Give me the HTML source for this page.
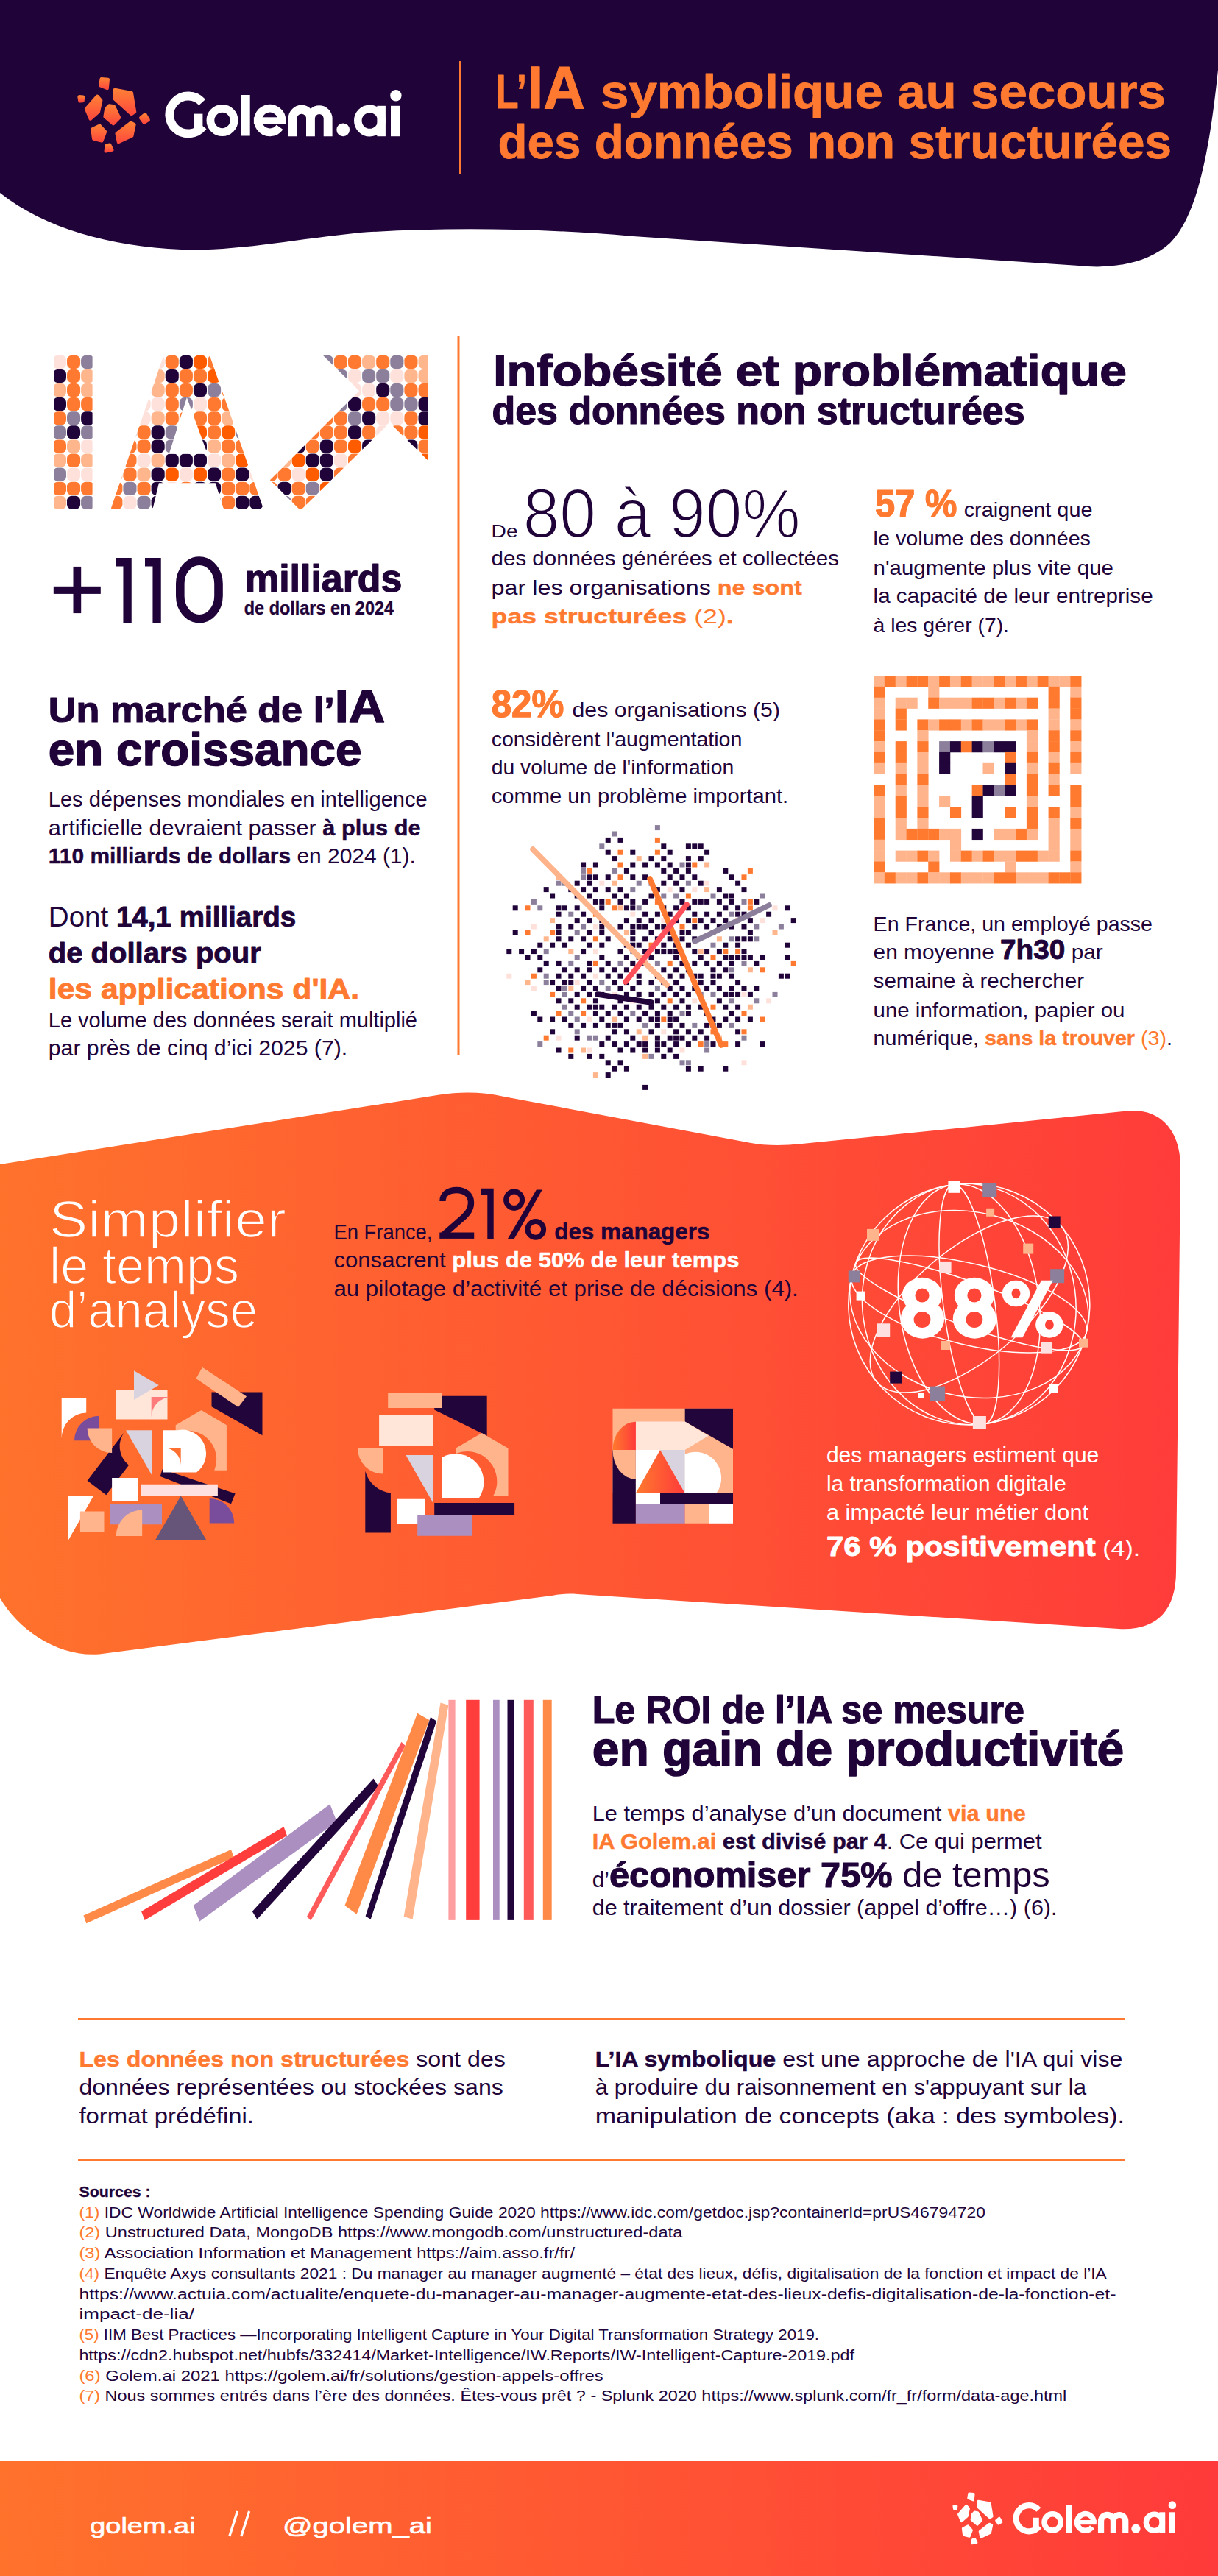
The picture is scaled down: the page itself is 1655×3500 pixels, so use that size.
<!DOCTYPE html>
<html><head><meta charset="utf-8"><title>Golem.ai infographic</title>
<style>
html,body{margin:0;padding:0;background:#fff;}
body{width:1655px;height:3500px;overflow:hidden;position:relative;font-family:"Liberation Sans", sans-serif;}
svg{position:absolute;left:0;top:0;}
text{white-space:pre;}
</style></head><body>
<svg width="1655" height="3500" viewBox="0 0 1655 3500" font-family='"Liberation Sans", sans-serif'>
<defs>
<linearGradient id="lg" x1="0" y1="0" x2="0" y2="1"><stop offset="0" stop-color="#ff7e36"/><stop offset="1" stop-color="#ff4a3c"/></linearGradient>
<linearGradient id="og" x1="0" y1="0" x2="1655" y2="0" gradientUnits="userSpaceOnUse"><stop offset="0" stop-color="#ff722c"/><stop offset="1" stop-color="#ff3a3a"/></linearGradient>
</defs>
<path d="M0,0 H1655 V95 C1645,190 1630,290 1590,330 C1560,358 1510,366 1466,361 L860,321 C720,309 600,309 490,316 C400,325 320,342 246,339 C150,335 60,310 0,262 Z" fill="#200439"/>
<rect x="624" y="83" width="3" height="154" fill="#ff7a30"/>
<g transform="translate(0.00,0.00) scale(1)" fill="url(#lg)" stroke="url(#lg)" stroke-width="4.4" stroke-linejoin="round"><polygon points="137.74,107.26 146.80,108.01 145.68,119.99 136.26,116.30"/><polygon points="107.55,131.32 113.15,131.59 112.52,137.02 108.39,137.28"/><polygon points="132.19,130.74 137.22,136.51 133.90,151.83 122.83,161.54 117.07,148.01"/><polygon points="156.04,121.91 178.78,126.09 183.10,151.99 178.77,155.00 155.26,133.88"/><polygon points="148.40,143.52 154.72,144.33 162.05,159.94 153.88,168.11 142.57,158.53 144.36,147.64"/><polygon points="197.22,155.25 201.71,162.86 195.69,166.55 191.18,160.28"/><polygon points="125.49,175.57 135.38,170.62 142.97,179.07 138.25,191.47 127.19,188.55"/><polygon points="158.63,181.60 177.76,166.78 182.50,169.12 179.27,184.47 160.99,193.03"/><polygon points="144.78,197.53 149.06,196.61 152.39,203.66 143.77,205.28"/></g>
<rect x="621.5" y="456" width="3" height="978" fill="#ff7a30"/>
<path d="M0,1582 L597,1487.6 C625,1483 655,1483 685,1490 L1010,1551 C1040,1557 1060,1557 1090,1554 L1534,1509.3 C1580,1506 1604,1540 1604,1585 L1598,2135 C1598,2190 1570,2216 1520,2213 L830,2169 L785,2166 C770,2165 760,2166 750,2168 L135,2247.5 C80,2252 25,2215 0,2171 Z" fill="url(#og)"/>
<rect x="0" y="3344" width="1655" height="156" fill="url(#og)"/>
<g transform="translate(1221.75,3314.10) scale(0.69)" fill="#ffffff" stroke="#ffffff" stroke-width="4.4" stroke-linejoin="round"><polygon points="137.74,107.26 146.80,108.01 145.68,119.99 136.26,116.30"/><polygon points="107.55,131.32 113.15,131.59 112.52,137.02 108.39,137.28"/><polygon points="132.19,130.74 137.22,136.51 133.90,151.83 122.83,161.54 117.07,148.01"/><polygon points="156.04,121.91 178.78,126.09 183.10,151.99 178.77,155.00 155.26,133.88"/><polygon points="148.40,143.52 154.72,144.33 162.05,159.94 153.88,168.11 142.57,158.53 144.36,147.64"/><polygon points="197.22,155.25 201.71,162.86 195.69,166.55 191.18,160.28"/><polygon points="125.49,175.57 135.38,170.62 142.97,179.07 138.25,191.47 127.19,188.55"/><polygon points="158.63,181.60 177.76,166.78 182.50,169.12 179.27,184.47 160.99,193.03"/><polygon points="144.78,197.53 149.06,196.61 152.39,203.66 143.77,205.28"/></g>
<rect x="106" y="2742" width="1422" height="3" fill="#ff7a30"/>
<rect x="106" y="2933" width="1422" height="3" fill="#ff7a30"/>
<clipPath id="iaclip"><path clip-rule="evenodd" d="M73.3,482.8 H125.6 V693.6 H73.3 Z M222.4,482.8 L284.8,482.8 L358.7,693.6 L304.5,693.6 L292.7,656.2 L215.9,656.2 L207.0,693.6 L149.9,693.6 Z M253.9,540.0 L281.9,616.8 L229.7,616.8 Z M438.8,482.8 L581.7,482.8 L581.7,625.7 L529.5,574.4 L408.3,693.6 L366.9,652.3 L488.1,531.1 Z"/></clipPath>
<g clip-path="url(#iaclip)"><rect x="71.9" y="482.8" width="18.1" height="18.1" rx="6.5" fill="#ffe1dc"/><rect x="91.0" y="482.8" width="18.1" height="18.1" rx="6.5" fill="#ff7a30"/><rect x="110.1" y="482.8" width="18.1" height="18.1" rx="6.5" fill="#8b7f9b"/><rect x="129.2" y="482.8" width="18.1" height="18.1" rx="6.5" fill="#ff7a30"/><rect x="148.3" y="482.8" width="18.1" height="18.1" rx="6.5" fill="#ff7a30"/><rect x="167.4" y="482.8" width="18.1" height="18.1" rx="6.5" fill="#200439"/><rect x="186.5" y="482.8" width="18.1" height="18.1" rx="6.5" fill="#ff7a30"/><rect x="205.6" y="482.8" width="18.1" height="18.1" rx="6.5" fill="#ffe1dc"/><rect x="224.7" y="482.8" width="18.1" height="18.1" rx="6.5" fill="#ff7a30"/><rect x="243.8" y="482.8" width="18.1" height="18.1" rx="6.5" fill="#200439"/><rect x="262.9" y="482.8" width="18.1" height="18.1" rx="6.5" fill="#ff5c00"/><rect x="282.0" y="482.8" width="18.1" height="18.1" rx="6.5" fill="#ff7a30"/><rect x="301.1" y="482.8" width="18.1" height="18.1" rx="6.5" fill="#ff7a30"/><rect x="320.2" y="482.8" width="18.1" height="18.1" rx="6.5" fill="#8b7f9b"/><rect x="339.3" y="482.8" width="18.1" height="18.1" rx="6.5" fill="#8b7f9b"/><rect x="358.4" y="482.8" width="18.1" height="18.1" rx="6.5" fill="#ff7a30"/><rect x="377.5" y="482.8" width="18.1" height="18.1" rx="6.5" fill="#ffb68c"/><rect x="396.6" y="482.8" width="18.1" height="18.1" rx="6.5" fill="#ff7a30"/><rect x="415.7" y="482.8" width="18.1" height="18.1" rx="6.5" fill="#200439"/><rect x="434.8" y="482.8" width="18.1" height="18.1" rx="6.5" fill="#8b7f9b"/><rect x="453.9" y="482.8" width="18.1" height="18.1" rx="6.5" fill="#ff7a30"/><rect x="473.0" y="482.8" width="18.1" height="18.1" rx="6.5" fill="#ff7a30"/><rect x="492.1" y="482.8" width="18.1" height="18.1" rx="6.5" fill="#ffb68c"/><rect x="511.2" y="482.8" width="18.1" height="18.1" rx="6.5" fill="#ff7a30"/><rect x="530.3" y="482.8" width="18.1" height="18.1" rx="6.5" fill="#8b7f9b"/><rect x="549.4" y="482.8" width="18.1" height="18.1" rx="6.5" fill="#ff7a30"/><rect x="568.5" y="482.8" width="18.1" height="18.1" rx="6.5" fill="#ffb68c"/><rect x="587.6" y="482.8" width="18.1" height="18.1" rx="6.5" fill="#ff7a30"/><rect x="71.9" y="501.9" width="18.1" height="18.1" rx="6.5" fill="#200439"/><rect x="91.0" y="501.9" width="18.1" height="18.1" rx="6.5" fill="#ff7a30"/><rect x="110.1" y="501.9" width="18.1" height="18.1" rx="6.5" fill="#ffb68c"/><rect x="129.2" y="501.9" width="18.1" height="18.1" rx="6.5" fill="#8b7f9b"/><rect x="148.3" y="501.9" width="18.1" height="18.1" rx="6.5" fill="#ff7a30"/><rect x="167.4" y="501.9" width="18.1" height="18.1" rx="6.5" fill="#200439"/><rect x="186.5" y="501.9" width="18.1" height="18.1" rx="6.5" fill="#ff7a30"/><rect x="205.6" y="501.9" width="18.1" height="18.1" rx="6.5" fill="#ffb68c"/><rect x="224.7" y="501.9" width="18.1" height="18.1" rx="6.5" fill="#200439"/><rect x="243.8" y="501.9" width="18.1" height="18.1" rx="6.5" fill="#ff7a30"/><rect x="262.9" y="501.9" width="18.1" height="18.1" rx="6.5" fill="#ff7a30"/><rect x="282.0" y="501.9" width="18.1" height="18.1" rx="6.5" fill="#ff5c00"/><rect x="301.1" y="501.9" width="18.1" height="18.1" rx="6.5" fill="#ffe1dc"/><rect x="320.2" y="501.9" width="18.1" height="18.1" rx="6.5" fill="#ff7a30"/><rect x="339.3" y="501.9" width="18.1" height="18.1" rx="6.5" fill="#200439"/><rect x="358.4" y="501.9" width="18.1" height="18.1" rx="6.5" fill="#ff7a30"/><rect x="377.5" y="501.9" width="18.1" height="18.1" rx="6.5" fill="#ff7a30"/><rect x="396.6" y="501.9" width="18.1" height="18.1" rx="6.5" fill="#ff5c00"/><rect x="415.7" y="501.9" width="18.1" height="18.1" rx="6.5" fill="#200439"/><rect x="434.8" y="501.9" width="18.1" height="18.1" rx="6.5" fill="#200439"/><rect x="453.9" y="501.9" width="18.1" height="18.1" rx="6.5" fill="#8b7f9b"/><rect x="473.0" y="501.9" width="18.1" height="18.1" rx="6.5" fill="#ffe1dc"/><rect x="492.1" y="501.9" width="18.1" height="18.1" rx="6.5" fill="#8b7f9b"/><rect x="511.2" y="501.9" width="18.1" height="18.1" rx="6.5" fill="#8b7f9b"/><rect x="530.3" y="501.9" width="18.1" height="18.1" rx="6.5" fill="#ffe1dc"/><rect x="549.4" y="501.9" width="18.1" height="18.1" rx="6.5" fill="#ffb68c"/><rect x="568.5" y="501.9" width="18.1" height="18.1" rx="6.5" fill="#ffb68c"/><rect x="587.6" y="501.9" width="18.1" height="18.1" rx="6.5" fill="#ff7a30"/><rect x="71.9" y="521.0" width="18.1" height="18.1" rx="6.5" fill="#ffb68c"/><rect x="91.0" y="521.0" width="18.1" height="18.1" rx="6.5" fill="#ff7a30"/><rect x="110.1" y="521.0" width="18.1" height="18.1" rx="6.5" fill="#ffb68c"/><rect x="129.2" y="521.0" width="18.1" height="18.1" rx="6.5" fill="#200439"/><rect x="148.3" y="521.0" width="18.1" height="18.1" rx="6.5" fill="#200439"/><rect x="167.4" y="521.0" width="18.1" height="18.1" rx="6.5" fill="#ffe1dc"/><rect x="186.5" y="521.0" width="18.1" height="18.1" rx="6.5" fill="#8b7f9b"/><rect x="205.6" y="521.0" width="18.1" height="18.1" rx="6.5" fill="#ffb68c"/><rect x="224.7" y="521.0" width="18.1" height="18.1" rx="6.5" fill="#ff7a30"/><rect x="243.8" y="521.0" width="18.1" height="18.1" rx="6.5" fill="#ff7a30"/><rect x="262.9" y="521.0" width="18.1" height="18.1" rx="6.5" fill="#200439"/><rect x="282.0" y="521.0" width="18.1" height="18.1" rx="6.5" fill="#8b7f9b"/><rect x="301.1" y="521.0" width="18.1" height="18.1" rx="6.5" fill="#ff7a30"/><rect x="320.2" y="521.0" width="18.1" height="18.1" rx="6.5" fill="#ffe1dc"/><rect x="339.3" y="521.0" width="18.1" height="18.1" rx="6.5" fill="#ff7a30"/><rect x="358.4" y="521.0" width="18.1" height="18.1" rx="6.5" fill="#200439"/><rect x="377.5" y="521.0" width="18.1" height="18.1" rx="6.5" fill="#8b7f9b"/><rect x="396.6" y="521.0" width="18.1" height="18.1" rx="6.5" fill="#ff7a30"/><rect x="415.7" y="521.0" width="18.1" height="18.1" rx="6.5" fill="#ff7a30"/><rect x="434.8" y="521.0" width="18.1" height="18.1" rx="6.5" fill="#200439"/><rect x="453.9" y="521.0" width="18.1" height="18.1" rx="6.5" fill="#ffe1dc"/><rect x="473.0" y="521.0" width="18.1" height="18.1" rx="6.5" fill="#ffe1dc"/><rect x="492.1" y="521.0" width="18.1" height="18.1" rx="6.5" fill="#ffe1dc"/><rect x="511.2" y="521.0" width="18.1" height="18.1" rx="6.5" fill="#200439"/><rect x="530.3" y="521.0" width="18.1" height="18.1" rx="6.5" fill="#8b7f9b"/><rect x="549.4" y="521.0" width="18.1" height="18.1" rx="6.5" fill="#ff7a30"/><rect x="568.5" y="521.0" width="18.1" height="18.1" rx="6.5" fill="#ff7a30"/><rect x="587.6" y="521.0" width="18.1" height="18.1" rx="6.5" fill="#ffb68c"/><rect x="71.9" y="540.1" width="18.1" height="18.1" rx="6.5" fill="#200439"/><rect x="91.0" y="540.1" width="18.1" height="18.1" rx="6.5" fill="#ff7a30"/><rect x="110.1" y="540.1" width="18.1" height="18.1" rx="6.5" fill="#ff7a30"/><rect x="129.2" y="540.1" width="18.1" height="18.1" rx="6.5" fill="#ffb68c"/><rect x="148.3" y="540.1" width="18.1" height="18.1" rx="6.5" fill="#8b7f9b"/><rect x="167.4" y="540.1" width="18.1" height="18.1" rx="6.5" fill="#ffb68c"/><rect x="186.5" y="540.1" width="18.1" height="18.1" rx="6.5" fill="#ffe1dc"/><rect x="205.6" y="540.1" width="18.1" height="18.1" rx="6.5" fill="#ffe1dc"/><rect x="224.7" y="540.1" width="18.1" height="18.1" rx="6.5" fill="#ff7a30"/><rect x="243.8" y="540.1" width="18.1" height="18.1" rx="6.5" fill="#8b7f9b"/><rect x="262.9" y="540.1" width="18.1" height="18.1" rx="6.5" fill="#ffe1dc"/><rect x="282.0" y="540.1" width="18.1" height="18.1" rx="6.5" fill="#ff7a30"/><rect x="301.1" y="540.1" width="18.1" height="18.1" rx="6.5" fill="#ff7a30"/><rect x="320.2" y="540.1" width="18.1" height="18.1" rx="6.5" fill="#200439"/><rect x="339.3" y="540.1" width="18.1" height="18.1" rx="6.5" fill="#ff7a30"/><rect x="358.4" y="540.1" width="18.1" height="18.1" rx="6.5" fill="#ff5c00"/><rect x="377.5" y="540.1" width="18.1" height="18.1" rx="6.5" fill="#ffb68c"/><rect x="396.6" y="540.1" width="18.1" height="18.1" rx="6.5" fill="#ff7a30"/><rect x="415.7" y="540.1" width="18.1" height="18.1" rx="6.5" fill="#ffb68c"/><rect x="434.8" y="540.1" width="18.1" height="18.1" rx="6.5" fill="#8b7f9b"/><rect x="453.9" y="540.1" width="18.1" height="18.1" rx="6.5" fill="#8b7f9b"/><rect x="473.0" y="540.1" width="18.1" height="18.1" rx="6.5" fill="#200439"/><rect x="492.1" y="540.1" width="18.1" height="18.1" rx="6.5" fill="#ff7a30"/><rect x="511.2" y="540.1" width="18.1" height="18.1" rx="6.5" fill="#ff7a30"/><rect x="530.3" y="540.1" width="18.1" height="18.1" rx="6.5" fill="#8b7f9b"/><rect x="549.4" y="540.1" width="18.1" height="18.1" rx="6.5" fill="#8b7f9b"/><rect x="568.5" y="540.1" width="18.1" height="18.1" rx="6.5" fill="#200439"/><rect x="587.6" y="540.1" width="18.1" height="18.1" rx="6.5" fill="#ffb68c"/><rect x="71.9" y="559.2" width="18.1" height="18.1" rx="6.5" fill="#ff7a30"/><rect x="91.0" y="559.2" width="18.1" height="18.1" rx="6.5" fill="#8b7f9b"/><rect x="110.1" y="559.2" width="18.1" height="18.1" rx="6.5" fill="#200439"/><rect x="129.2" y="559.2" width="18.1" height="18.1" rx="6.5" fill="#ffb68c"/><rect x="148.3" y="559.2" width="18.1" height="18.1" rx="6.5" fill="#8b7f9b"/><rect x="167.4" y="559.2" width="18.1" height="18.1" rx="6.5" fill="#ffe1dc"/><rect x="186.5" y="559.2" width="18.1" height="18.1" rx="6.5" fill="#ffe1dc"/><rect x="205.6" y="559.2" width="18.1" height="18.1" rx="6.5" fill="#ffb68c"/><rect x="224.7" y="559.2" width="18.1" height="18.1" rx="6.5" fill="#ff7a30"/><rect x="243.8" y="559.2" width="18.1" height="18.1" rx="6.5" fill="#ff7a30"/><rect x="262.9" y="559.2" width="18.1" height="18.1" rx="6.5" fill="#ff7a30"/><rect x="282.0" y="559.2" width="18.1" height="18.1" rx="6.5" fill="#ff7a30"/><rect x="301.1" y="559.2" width="18.1" height="18.1" rx="6.5" fill="#ffb68c"/><rect x="320.2" y="559.2" width="18.1" height="18.1" rx="6.5" fill="#ffb68c"/><rect x="339.3" y="559.2" width="18.1" height="18.1" rx="6.5" fill="#ff7a30"/><rect x="358.4" y="559.2" width="18.1" height="18.1" rx="6.5" fill="#200439"/><rect x="377.5" y="559.2" width="18.1" height="18.1" rx="6.5" fill="#ff7a30"/><rect x="396.6" y="559.2" width="18.1" height="18.1" rx="6.5" fill="#ffb68c"/><rect x="415.7" y="559.2" width="18.1" height="18.1" rx="6.5" fill="#ffb68c"/><rect x="434.8" y="559.2" width="18.1" height="18.1" rx="6.5" fill="#ff7a30"/><rect x="453.9" y="559.2" width="18.1" height="18.1" rx="6.5" fill="#ff7a30"/><rect x="473.0" y="559.2" width="18.1" height="18.1" rx="6.5" fill="#8b7f9b"/><rect x="492.1" y="559.2" width="18.1" height="18.1" rx="6.5" fill="#200439"/><rect x="511.2" y="559.2" width="18.1" height="18.1" rx="6.5" fill="#ffe1dc"/><rect x="530.3" y="559.2" width="18.1" height="18.1" rx="6.5" fill="#ffe1dc"/><rect x="549.4" y="559.2" width="18.1" height="18.1" rx="6.5" fill="#ff7a30"/><rect x="568.5" y="559.2" width="18.1" height="18.1" rx="6.5" fill="#200439"/><rect x="587.6" y="559.2" width="18.1" height="18.1" rx="6.5" fill="#ff7a30"/><rect x="71.9" y="578.3" width="18.1" height="18.1" rx="6.5" fill="#8b7f9b"/><rect x="91.0" y="578.3" width="18.1" height="18.1" rx="6.5" fill="#200439"/><rect x="110.1" y="578.3" width="18.1" height="18.1" rx="6.5" fill="#8b7f9b"/><rect x="129.2" y="578.3" width="18.1" height="18.1" rx="6.5" fill="#8b7f9b"/><rect x="148.3" y="578.3" width="18.1" height="18.1" rx="6.5" fill="#8b7f9b"/><rect x="167.4" y="578.3" width="18.1" height="18.1" rx="6.5" fill="#8b7f9b"/><rect x="186.5" y="578.3" width="18.1" height="18.1" rx="6.5" fill="#ff7a30"/><rect x="205.6" y="578.3" width="18.1" height="18.1" rx="6.5" fill="#200439"/><rect x="224.7" y="578.3" width="18.1" height="18.1" rx="6.5" fill="#8b7f9b"/><rect x="243.8" y="578.3" width="18.1" height="18.1" rx="6.5" fill="#ff7a30"/><rect x="262.9" y="578.3" width="18.1" height="18.1" rx="6.5" fill="#ff5c00"/><rect x="282.0" y="578.3" width="18.1" height="18.1" rx="6.5" fill="#ff7a30"/><rect x="301.1" y="578.3" width="18.1" height="18.1" rx="6.5" fill="#ff5c00"/><rect x="320.2" y="578.3" width="18.1" height="18.1" rx="6.5" fill="#8b7f9b"/><rect x="339.3" y="578.3" width="18.1" height="18.1" rx="6.5" fill="#ff7a30"/><rect x="358.4" y="578.3" width="18.1" height="18.1" rx="6.5" fill="#ff7a30"/><rect x="377.5" y="578.3" width="18.1" height="18.1" rx="6.5" fill="#ffe1dc"/><rect x="396.6" y="578.3" width="18.1" height="18.1" rx="6.5" fill="#ff7a30"/><rect x="415.7" y="578.3" width="18.1" height="18.1" rx="6.5" fill="#ff7a30"/><rect x="434.8" y="578.3" width="18.1" height="18.1" rx="6.5" fill="#ff7a30"/><rect x="453.9" y="578.3" width="18.1" height="18.1" rx="6.5" fill="#ff7a30"/><rect x="473.0" y="578.3" width="18.1" height="18.1" rx="6.5" fill="#200439"/><rect x="492.1" y="578.3" width="18.1" height="18.1" rx="6.5" fill="#ff7a30"/><rect x="511.2" y="578.3" width="18.1" height="18.1" rx="6.5" fill="#ffe1dc"/><rect x="530.3" y="578.3" width="18.1" height="18.1" rx="6.5" fill="#ff7a30"/><rect x="549.4" y="578.3" width="18.1" height="18.1" rx="6.5" fill="#ff7a30"/><rect x="568.5" y="578.3" width="18.1" height="18.1" rx="6.5" fill="#ff5c00"/><rect x="587.6" y="578.3" width="18.1" height="18.1" rx="6.5" fill="#ffe1dc"/><rect x="71.9" y="597.4" width="18.1" height="18.1" rx="6.5" fill="#ff7a30"/><rect x="91.0" y="597.4" width="18.1" height="18.1" rx="6.5" fill="#ffb68c"/><rect x="110.1" y="597.4" width="18.1" height="18.1" rx="6.5" fill="#ffe1dc"/><rect x="129.2" y="597.4" width="18.1" height="18.1" rx="6.5" fill="#ffe1dc"/><rect x="148.3" y="597.4" width="18.1" height="18.1" rx="6.5" fill="#200439"/><rect x="167.4" y="597.4" width="18.1" height="18.1" rx="6.5" fill="#ff7a30"/><rect x="186.5" y="597.4" width="18.1" height="18.1" rx="6.5" fill="#ff7a30"/><rect x="205.6" y="597.4" width="18.1" height="18.1" rx="6.5" fill="#200439"/><rect x="224.7" y="597.4" width="18.1" height="18.1" rx="6.5" fill="#8b7f9b"/><rect x="243.8" y="597.4" width="18.1" height="18.1" rx="6.5" fill="#200439"/><rect x="262.9" y="597.4" width="18.1" height="18.1" rx="6.5" fill="#200439"/><rect x="282.0" y="597.4" width="18.1" height="18.1" rx="6.5" fill="#ffb68c"/><rect x="301.1" y="597.4" width="18.1" height="18.1" rx="6.5" fill="#ff7a30"/><rect x="320.2" y="597.4" width="18.1" height="18.1" rx="6.5" fill="#ff7a30"/><rect x="339.3" y="597.4" width="18.1" height="18.1" rx="6.5" fill="#ff7a30"/><rect x="358.4" y="597.4" width="18.1" height="18.1" rx="6.5" fill="#ffe1dc"/><rect x="377.5" y="597.4" width="18.1" height="18.1" rx="6.5" fill="#ffb68c"/><rect x="396.6" y="597.4" width="18.1" height="18.1" rx="6.5" fill="#200439"/><rect x="415.7" y="597.4" width="18.1" height="18.1" rx="6.5" fill="#ff7a30"/><rect x="434.8" y="597.4" width="18.1" height="18.1" rx="6.5" fill="#200439"/><rect x="453.9" y="597.4" width="18.1" height="18.1" rx="6.5" fill="#ff7a30"/><rect x="473.0" y="597.4" width="18.1" height="18.1" rx="6.5" fill="#ff5c00"/><rect x="492.1" y="597.4" width="18.1" height="18.1" rx="6.5" fill="#200439"/><rect x="511.2" y="597.4" width="18.1" height="18.1" rx="6.5" fill="#ffe1dc"/><rect x="530.3" y="597.4" width="18.1" height="18.1" rx="6.5" fill="#ff7a30"/><rect x="549.4" y="597.4" width="18.1" height="18.1" rx="6.5" fill="#200439"/><rect x="568.5" y="597.4" width="18.1" height="18.1" rx="6.5" fill="#ff7a30"/><rect x="587.6" y="597.4" width="18.1" height="18.1" rx="6.5" fill="#200439"/><rect x="71.9" y="616.5" width="18.1" height="18.1" rx="6.5" fill="#ffb68c"/><rect x="91.0" y="616.5" width="18.1" height="18.1" rx="6.5" fill="#ff7a30"/><rect x="110.1" y="616.5" width="18.1" height="18.1" rx="6.5" fill="#ffb68c"/><rect x="129.2" y="616.5" width="18.1" height="18.1" rx="6.5" fill="#200439"/><rect x="148.3" y="616.5" width="18.1" height="18.1" rx="6.5" fill="#ffe1dc"/><rect x="167.4" y="616.5" width="18.1" height="18.1" rx="6.5" fill="#ff7a30"/><rect x="186.5" y="616.5" width="18.1" height="18.1" rx="6.5" fill="#ffe1dc"/><rect x="205.6" y="616.5" width="18.1" height="18.1" rx="6.5" fill="#ffb68c"/><rect x="224.7" y="616.5" width="18.1" height="18.1" rx="6.5" fill="#200439"/><rect x="243.8" y="616.5" width="18.1" height="18.1" rx="6.5" fill="#200439"/><rect x="262.9" y="616.5" width="18.1" height="18.1" rx="6.5" fill="#200439"/><rect x="282.0" y="616.5" width="18.1" height="18.1" rx="6.5" fill="#ffe1dc"/><rect x="301.1" y="616.5" width="18.1" height="18.1" rx="6.5" fill="#ffb68c"/><rect x="320.2" y="616.5" width="18.1" height="18.1" rx="6.5" fill="#ff5c00"/><rect x="339.3" y="616.5" width="18.1" height="18.1" rx="6.5" fill="#ffb68c"/><rect x="358.4" y="616.5" width="18.1" height="18.1" rx="6.5" fill="#8b7f9b"/><rect x="377.5" y="616.5" width="18.1" height="18.1" rx="6.5" fill="#ffb68c"/><rect x="396.6" y="616.5" width="18.1" height="18.1" rx="6.5" fill="#ff5c00"/><rect x="415.7" y="616.5" width="18.1" height="18.1" rx="6.5" fill="#200439"/><rect x="434.8" y="616.5" width="18.1" height="18.1" rx="6.5" fill="#200439"/><rect x="453.9" y="616.5" width="18.1" height="18.1" rx="6.5" fill="#ffe1dc"/><rect x="473.0" y="616.5" width="18.1" height="18.1" rx="6.5" fill="#ff7a30"/><rect x="492.1" y="616.5" width="18.1" height="18.1" rx="6.5" fill="#ff7a30"/><rect x="511.2" y="616.5" width="18.1" height="18.1" rx="6.5" fill="#ffb68c"/><rect x="530.3" y="616.5" width="18.1" height="18.1" rx="6.5" fill="#200439"/><rect x="549.4" y="616.5" width="18.1" height="18.1" rx="6.5" fill="#ffb68c"/><rect x="568.5" y="616.5" width="18.1" height="18.1" rx="6.5" fill="#ff5c00"/><rect x="587.6" y="616.5" width="18.1" height="18.1" rx="6.5" fill="#ffe1dc"/><rect x="71.9" y="635.6" width="18.1" height="18.1" rx="6.5" fill="#8b7f9b"/><rect x="91.0" y="635.6" width="18.1" height="18.1" rx="6.5" fill="#ffe1dc"/><rect x="110.1" y="635.6" width="18.1" height="18.1" rx="6.5" fill="#ffe1dc"/><rect x="129.2" y="635.6" width="18.1" height="18.1" rx="6.5" fill="#ff7a30"/><rect x="148.3" y="635.6" width="18.1" height="18.1" rx="6.5" fill="#ffb68c"/><rect x="167.4" y="635.6" width="18.1" height="18.1" rx="6.5" fill="#ff7a30"/><rect x="186.5" y="635.6" width="18.1" height="18.1" rx="6.5" fill="#ffb68c"/><rect x="205.6" y="635.6" width="18.1" height="18.1" rx="6.5" fill="#200439"/><rect x="224.7" y="635.6" width="18.1" height="18.1" rx="6.5" fill="#ff5c00"/><rect x="243.8" y="635.6" width="18.1" height="18.1" rx="6.5" fill="#ffe1dc"/><rect x="262.9" y="635.6" width="18.1" height="18.1" rx="6.5" fill="#ff5c00"/><rect x="282.0" y="635.6" width="18.1" height="18.1" rx="6.5" fill="#200439"/><rect x="301.1" y="635.6" width="18.1" height="18.1" rx="6.5" fill="#ff7a30"/><rect x="320.2" y="635.6" width="18.1" height="18.1" rx="6.5" fill="#200439"/><rect x="339.3" y="635.6" width="18.1" height="18.1" rx="6.5" fill="#ffe1dc"/><rect x="358.4" y="635.6" width="18.1" height="18.1" rx="6.5" fill="#ff7a30"/><rect x="377.5" y="635.6" width="18.1" height="18.1" rx="6.5" fill="#ff7a30"/><rect x="396.6" y="635.6" width="18.1" height="18.1" rx="6.5" fill="#ffe1dc"/><rect x="415.7" y="635.6" width="18.1" height="18.1" rx="6.5" fill="#ff5c00"/><rect x="434.8" y="635.6" width="18.1" height="18.1" rx="6.5" fill="#200439"/><rect x="453.9" y="635.6" width="18.1" height="18.1" rx="6.5" fill="#ff7a30"/><rect x="473.0" y="635.6" width="18.1" height="18.1" rx="6.5" fill="#8b7f9b"/><rect x="492.1" y="635.6" width="18.1" height="18.1" rx="6.5" fill="#ffe1dc"/><rect x="511.2" y="635.6" width="18.1" height="18.1" rx="6.5" fill="#ff7a30"/><rect x="530.3" y="635.6" width="18.1" height="18.1" rx="6.5" fill="#8b7f9b"/><rect x="549.4" y="635.6" width="18.1" height="18.1" rx="6.5" fill="#8b7f9b"/><rect x="568.5" y="635.6" width="18.1" height="18.1" rx="6.5" fill="#8b7f9b"/><rect x="587.6" y="635.6" width="18.1" height="18.1" rx="6.5" fill="#ff7a30"/><rect x="71.9" y="654.7" width="18.1" height="18.1" rx="6.5" fill="#ff7a30"/><rect x="91.0" y="654.7" width="18.1" height="18.1" rx="6.5" fill="#ff7a30"/><rect x="110.1" y="654.7" width="18.1" height="18.1" rx="6.5" fill="#ff7a30"/><rect x="129.2" y="654.7" width="18.1" height="18.1" rx="6.5" fill="#ff7a30"/><rect x="148.3" y="654.7" width="18.1" height="18.1" rx="6.5" fill="#ff7a30"/><rect x="167.4" y="654.7" width="18.1" height="18.1" rx="6.5" fill="#8b7f9b"/><rect x="186.5" y="654.7" width="18.1" height="18.1" rx="6.5" fill="#ff7a30"/><rect x="205.6" y="654.7" width="18.1" height="18.1" rx="6.5" fill="#200439"/><rect x="224.7" y="654.7" width="18.1" height="18.1" rx="6.5" fill="#ffe1dc"/><rect x="243.8" y="654.7" width="18.1" height="18.1" rx="6.5" fill="#ff7a30"/><rect x="262.9" y="654.7" width="18.1" height="18.1" rx="6.5" fill="#200439"/><rect x="282.0" y="654.7" width="18.1" height="18.1" rx="6.5" fill="#200439"/><rect x="301.1" y="654.7" width="18.1" height="18.1" rx="6.5" fill="#ff7a30"/><rect x="320.2" y="654.7" width="18.1" height="18.1" rx="6.5" fill="#ff7a30"/><rect x="339.3" y="654.7" width="18.1" height="18.1" rx="6.5" fill="#ff7a30"/><rect x="358.4" y="654.7" width="18.1" height="18.1" rx="6.5" fill="#ff7a30"/><rect x="377.5" y="654.7" width="18.1" height="18.1" rx="6.5" fill="#200439"/><rect x="396.6" y="654.7" width="18.1" height="18.1" rx="6.5" fill="#ff7a30"/><rect x="415.7" y="654.7" width="18.1" height="18.1" rx="6.5" fill="#8b7f9b"/><rect x="434.8" y="654.7" width="18.1" height="18.1" rx="6.5" fill="#ff5c00"/><rect x="453.9" y="654.7" width="18.1" height="18.1" rx="6.5" fill="#ff5c00"/><rect x="473.0" y="654.7" width="18.1" height="18.1" rx="6.5" fill="#ff7a30"/><rect x="492.1" y="654.7" width="18.1" height="18.1" rx="6.5" fill="#ffb68c"/><rect x="511.2" y="654.7" width="18.1" height="18.1" rx="6.5" fill="#ff5c00"/><rect x="530.3" y="654.7" width="18.1" height="18.1" rx="6.5" fill="#ffb68c"/><rect x="549.4" y="654.7" width="18.1" height="18.1" rx="6.5" fill="#200439"/><rect x="568.5" y="654.7" width="18.1" height="18.1" rx="6.5" fill="#ffb68c"/><rect x="587.6" y="654.7" width="18.1" height="18.1" rx="6.5" fill="#ffe1dc"/><rect x="71.9" y="673.8" width="18.1" height="18.1" rx="6.5" fill="#ffb68c"/><rect x="91.0" y="673.8" width="18.1" height="18.1" rx="6.5" fill="#200439"/><rect x="110.1" y="673.8" width="18.1" height="18.1" rx="6.5" fill="#8b7f9b"/><rect x="129.2" y="673.8" width="18.1" height="18.1" rx="6.5" fill="#ff7a30"/><rect x="148.3" y="673.8" width="18.1" height="18.1" rx="6.5" fill="#ff7a30"/><rect x="167.4" y="673.8" width="18.1" height="18.1" rx="6.5" fill="#ffe1dc"/><rect x="186.5" y="673.8" width="18.1" height="18.1" rx="6.5" fill="#8b7f9b"/><rect x="205.6" y="673.8" width="18.1" height="18.1" rx="6.5" fill="#200439"/><rect x="224.7" y="673.8" width="18.1" height="18.1" rx="6.5" fill="#8b7f9b"/><rect x="243.8" y="673.8" width="18.1" height="18.1" rx="6.5" fill="#200439"/><rect x="262.9" y="673.8" width="18.1" height="18.1" rx="6.5" fill="#ff7a30"/><rect x="282.0" y="673.8" width="18.1" height="18.1" rx="6.5" fill="#200439"/><rect x="301.1" y="673.8" width="18.1" height="18.1" rx="6.5" fill="#ff7a30"/><rect x="320.2" y="673.8" width="18.1" height="18.1" rx="6.5" fill="#200439"/><rect x="339.3" y="673.8" width="18.1" height="18.1" rx="6.5" fill="#200439"/><rect x="358.4" y="673.8" width="18.1" height="18.1" rx="6.5" fill="#ff7a30"/><rect x="377.5" y="673.8" width="18.1" height="18.1" rx="6.5" fill="#8b7f9b"/><rect x="396.6" y="673.8" width="18.1" height="18.1" rx="6.5" fill="#ff7a30"/><rect x="415.7" y="673.8" width="18.1" height="18.1" rx="6.5" fill="#ff7a30"/><rect x="434.8" y="673.8" width="18.1" height="18.1" rx="6.5" fill="#ff7a30"/><rect x="453.9" y="673.8" width="18.1" height="18.1" rx="6.5" fill="#ff7a30"/><rect x="473.0" y="673.8" width="18.1" height="18.1" rx="6.5" fill="#ff7a30"/><rect x="492.1" y="673.8" width="18.1" height="18.1" rx="6.5" fill="#200439"/><rect x="511.2" y="673.8" width="18.1" height="18.1" rx="6.5" fill="#ff7a30"/><rect x="530.3" y="673.8" width="18.1" height="18.1" rx="6.5" fill="#200439"/><rect x="549.4" y="673.8" width="18.1" height="18.1" rx="6.5" fill="#ff7a30"/><rect x="568.5" y="673.8" width="18.1" height="18.1" rx="6.5" fill="#ffe1dc"/><rect x="587.6" y="673.8" width="18.1" height="18.1" rx="6.5" fill="#200439"/></g>
<g><rect x="688.3" y="1289.1" width="7" height="7" fill="#200439"/><rect x="688.3" y="1322.7" width="7" height="7" fill="#ffe1dc"/><rect x="696.7" y="1230.3" width="7" height="7" fill="#200439"/><rect x="696.7" y="1263.9" width="7" height="7" fill="#200439"/><rect x="705.1" y="1289.1" width="7" height="7" fill="#200439"/><rect x="713.5" y="1230.3" width="7" height="7" fill="#ff7a30"/><rect x="713.5" y="1263.9" width="7" height="7" fill="#ff7a30"/><rect x="713.5" y="1297.5" width="7" height="7" fill="#200439"/><rect x="713.5" y="1331.1" width="7" height="7" fill="#ffb68c"/><rect x="721.9" y="1221.9" width="7" height="7" fill="#8b7f9b"/><rect x="721.9" y="1255.5" width="7" height="7" fill="#ffe1dc"/><rect x="721.9" y="1289.1" width="7" height="7" fill="#200439"/><rect x="721.9" y="1322.7" width="7" height="7" fill="#ff7a30"/><rect x="721.9" y="1339.5" width="7" height="7" fill="#ffe1dc"/><rect x="721.9" y="1373.1" width="7" height="7" fill="#200439"/><rect x="730.3" y="1230.3" width="7" height="7" fill="#8b7f9b"/><rect x="730.3" y="1280.7" width="7" height="7" fill="#200439"/><rect x="730.3" y="1297.5" width="7" height="7" fill="#200439"/><rect x="730.3" y="1314.3" width="7" height="7" fill="#200439"/><rect x="730.3" y="1381.5" width="7" height="7" fill="#200439"/><rect x="730.3" y="1415.1" width="7" height="7" fill="#8b7f9b"/><rect x="738.7" y="1205.1" width="7" height="7" fill="#200439"/><rect x="738.7" y="1272.3" width="7" height="7" fill="#ffb68c"/><rect x="738.7" y="1289.1" width="7" height="7" fill="#8b7f9b"/><rect x="738.7" y="1305.9" width="7" height="7" fill="#200439"/><rect x="738.7" y="1322.7" width="7" height="7" fill="#8b7f9b"/><rect x="738.7" y="1331.1" width="7" height="7" fill="#8b7f9b"/><rect x="738.7" y="1406.7" width="7" height="7" fill="#ff7a30"/><rect x="747.1" y="1213.5" width="7" height="7" fill="#200439"/><rect x="747.1" y="1247.1" width="7" height="7" fill="#ffb68c"/><rect x="747.1" y="1263.9" width="7" height="7" fill="#ff7a30"/><rect x="747.1" y="1280.7" width="7" height="7" fill="#200439"/><rect x="747.1" y="1331.1" width="7" height="7" fill="#200439"/><rect x="747.1" y="1347.9" width="7" height="7" fill="#ff7a30"/><rect x="747.1" y="1381.5" width="7" height="7" fill="#200439"/><rect x="747.1" y="1398.3" width="7" height="7" fill="#200439"/><rect x="755.5" y="1188.3" width="7" height="7" fill="#ffb68c"/><rect x="755.5" y="1196.7" width="7" height="7" fill="#8b7f9b"/><rect x="755.5" y="1230.3" width="7" height="7" fill="#200439"/><rect x="755.5" y="1238.7" width="7" height="7" fill="#200439"/><rect x="755.5" y="1255.5" width="7" height="7" fill="#200439"/><rect x="755.5" y="1263.9" width="7" height="7" fill="#200439"/><rect x="755.5" y="1272.3" width="7" height="7" fill="#200439"/><rect x="755.5" y="1305.9" width="7" height="7" fill="#200439"/><rect x="755.5" y="1322.7" width="7" height="7" fill="#200439"/><rect x="755.5" y="1339.5" width="7" height="7" fill="#200439"/><rect x="755.5" y="1356.3" width="7" height="7" fill="#200439"/><rect x="755.5" y="1373.1" width="7" height="7" fill="#ff7a30"/><rect x="755.5" y="1406.7" width="7" height="7" fill="#ffe1dc"/><rect x="755.5" y="1423.5" width="7" height="7" fill="#200439"/><rect x="763.9" y="1196.7" width="7" height="7" fill="#8b7f9b"/><rect x="763.9" y="1230.3" width="7" height="7" fill="#200439"/><rect x="763.9" y="1280.7" width="7" height="7" fill="#200439"/><rect x="763.9" y="1314.3" width="7" height="7" fill="#200439"/><rect x="763.9" y="1331.1" width="7" height="7" fill="#200439"/><rect x="763.9" y="1339.5" width="7" height="7" fill="#8b7f9b"/><rect x="763.9" y="1347.9" width="7" height="7" fill="#8b7f9b"/><rect x="763.9" y="1364.7" width="7" height="7" fill="#8b7f9b"/><rect x="763.9" y="1381.5" width="7" height="7" fill="#200439"/><rect x="772.3" y="1205.1" width="7" height="7" fill="#200439"/><rect x="772.3" y="1238.7" width="7" height="7" fill="#8b7f9b"/><rect x="772.3" y="1255.5" width="7" height="7" fill="#200439"/><rect x="772.3" y="1272.3" width="7" height="7" fill="#200439"/><rect x="772.3" y="1289.1" width="7" height="7" fill="#ffb68c"/><rect x="772.3" y="1305.9" width="7" height="7" fill="#8b7f9b"/><rect x="772.3" y="1322.7" width="7" height="7" fill="#200439"/><rect x="772.3" y="1331.1" width="7" height="7" fill="#200439"/><rect x="772.3" y="1339.5" width="7" height="7" fill="#ffb68c"/><rect x="772.3" y="1356.3" width="7" height="7" fill="#200439"/><rect x="772.3" y="1373.1" width="7" height="7" fill="#8b7f9b"/><rect x="772.3" y="1389.9" width="7" height="7" fill="#200439"/><rect x="772.3" y="1423.5" width="7" height="7" fill="#ff7a30"/><rect x="772.3" y="1431.9" width="7" height="7" fill="#200439"/><rect x="780.7" y="1196.7" width="7" height="7" fill="#200439"/><rect x="780.7" y="1213.5" width="7" height="7" fill="#200439"/><rect x="780.7" y="1230.3" width="7" height="7" fill="#200439"/><rect x="780.7" y="1247.1" width="7" height="7" fill="#200439"/><rect x="780.7" y="1263.9" width="7" height="7" fill="#8b7f9b"/><rect x="780.7" y="1297.5" width="7" height="7" fill="#8b7f9b"/><rect x="780.7" y="1314.3" width="7" height="7" fill="#200439"/><rect x="780.7" y="1331.1" width="7" height="7" fill="#ffe1dc"/><rect x="780.7" y="1347.9" width="7" height="7" fill="#200439"/><rect x="780.7" y="1364.7" width="7" height="7" fill="#200439"/><rect x="780.7" y="1381.5" width="7" height="7" fill="#8b7f9b"/><rect x="780.7" y="1398.3" width="7" height="7" fill="#8b7f9b"/><rect x="780.7" y="1406.7" width="7" height="7" fill="#200439"/><rect x="789.1" y="1171.5" width="7" height="7" fill="#200439"/><rect x="789.1" y="1179.9" width="7" height="7" fill="#8b7f9b"/><rect x="789.1" y="1188.3" width="7" height="7" fill="#8b7f9b"/><rect x="789.1" y="1205.1" width="7" height="7" fill="#200439"/><rect x="789.1" y="1238.7" width="7" height="7" fill="#200439"/><rect x="789.1" y="1255.5" width="7" height="7" fill="#8b7f9b"/><rect x="789.1" y="1272.3" width="7" height="7" fill="#200439"/><rect x="789.1" y="1289.1" width="7" height="7" fill="#200439"/><rect x="789.1" y="1322.7" width="7" height="7" fill="#200439"/><rect x="789.1" y="1339.5" width="7" height="7" fill="#200439"/><rect x="789.1" y="1356.3" width="7" height="7" fill="#ff7a30"/><rect x="789.1" y="1373.1" width="7" height="7" fill="#ff7a30"/><rect x="789.1" y="1389.9" width="7" height="7" fill="#200439"/><rect x="789.1" y="1423.5" width="7" height="7" fill="#ffb68c"/><rect x="797.5" y="1179.9" width="7" height="7" fill="#ff7a30"/><rect x="797.5" y="1188.3" width="7" height="7" fill="#200439"/><rect x="797.5" y="1196.7" width="7" height="7" fill="#200439"/><rect x="797.5" y="1213.5" width="7" height="7" fill="#200439"/><rect x="797.5" y="1247.1" width="7" height="7" fill="#200439"/><rect x="797.5" y="1263.9" width="7" height="7" fill="#200439"/><rect x="797.5" y="1280.7" width="7" height="7" fill="#200439"/><rect x="797.5" y="1305.9" width="7" height="7" fill="#200439"/><rect x="797.5" y="1314.3" width="7" height="7" fill="#200439"/><rect x="797.5" y="1331.1" width="7" height="7" fill="#200439"/><rect x="797.5" y="1347.9" width="7" height="7" fill="#200439"/><rect x="797.5" y="1364.7" width="7" height="7" fill="#200439"/><rect x="797.5" y="1381.5" width="7" height="7" fill="#ffe1dc"/><rect x="797.5" y="1406.7" width="7" height="7" fill="#8b7f9b"/><rect x="797.5" y="1423.5" width="7" height="7" fill="#ffe1dc"/><rect x="797.5" y="1431.9" width="7" height="7" fill="#200439"/><rect x="805.9" y="1171.5" width="7" height="7" fill="#200439"/><rect x="805.9" y="1188.3" width="7" height="7" fill="#200439"/><rect x="805.9" y="1205.1" width="7" height="7" fill="#200439"/><rect x="805.9" y="1221.9" width="7" height="7" fill="#200439"/><rect x="805.9" y="1238.7" width="7" height="7" fill="#ff7a30"/><rect x="805.9" y="1255.5" width="7" height="7" fill="#ffe1dc"/><rect x="805.9" y="1272.3" width="7" height="7" fill="#ff7a30"/><rect x="805.9" y="1289.1" width="7" height="7" fill="#ffe1dc"/><rect x="805.9" y="1305.9" width="7" height="7" fill="#ff7a30"/><rect x="805.9" y="1322.7" width="7" height="7" fill="#ffe1dc"/><rect x="805.9" y="1339.5" width="7" height="7" fill="#200439"/><rect x="805.9" y="1356.3" width="7" height="7" fill="#200439"/><rect x="805.9" y="1364.7" width="7" height="7" fill="#200439"/><rect x="805.9" y="1373.1" width="7" height="7" fill="#200439"/><rect x="805.9" y="1389.9" width="7" height="7" fill="#200439"/><rect x="805.9" y="1406.7" width="7" height="7" fill="#8b7f9b"/><rect x="805.9" y="1457.1" width="7" height="7" fill="#ffb68c"/><rect x="814.3" y="1146.3" width="7" height="7" fill="#8b7f9b"/><rect x="814.3" y="1196.7" width="7" height="7" fill="#ffe1dc"/><rect x="814.3" y="1221.9" width="7" height="7" fill="#200439"/><rect x="814.3" y="1230.3" width="7" height="7" fill="#200439"/><rect x="814.3" y="1247.1" width="7" height="7" fill="#200439"/><rect x="814.3" y="1255.5" width="7" height="7" fill="#200439"/><rect x="814.3" y="1263.9" width="7" height="7" fill="#200439"/><rect x="814.3" y="1280.7" width="7" height="7" fill="#200439"/><rect x="814.3" y="1297.5" width="7" height="7" fill="#200439"/><rect x="814.3" y="1314.3" width="7" height="7" fill="#200439"/><rect x="814.3" y="1331.1" width="7" height="7" fill="#8b7f9b"/><rect x="814.3" y="1347.9" width="7" height="7" fill="#200439"/><rect x="814.3" y="1364.7" width="7" height="7" fill="#200439"/><rect x="814.3" y="1381.5" width="7" height="7" fill="#200439"/><rect x="814.3" y="1415.1" width="7" height="7" fill="#200439"/><rect x="814.3" y="1431.9" width="7" height="7" fill="#200439"/><rect x="822.7" y="1137.9" width="7" height="7" fill="#200439"/><rect x="822.7" y="1154.7" width="7" height="7" fill="#200439"/><rect x="822.7" y="1188.3" width="7" height="7" fill="#200439"/><rect x="822.7" y="1205.1" width="7" height="7" fill="#200439"/><rect x="822.7" y="1221.9" width="7" height="7" fill="#ff7a30"/><rect x="822.7" y="1272.3" width="7" height="7" fill="#200439"/><rect x="822.7" y="1305.9" width="7" height="7" fill="#200439"/><rect x="822.7" y="1322.7" width="7" height="7" fill="#200439"/><rect x="822.7" y="1339.5" width="7" height="7" fill="#8b7f9b"/><rect x="822.7" y="1373.1" width="7" height="7" fill="#200439"/><rect x="822.7" y="1389.9" width="7" height="7" fill="#200439"/><rect x="822.7" y="1406.7" width="7" height="7" fill="#200439"/><rect x="822.7" y="1440.3" width="7" height="7" fill="#200439"/><rect x="822.7" y="1457.1" width="7" height="7" fill="#200439"/><rect x="831.1" y="1129.5" width="7" height="7" fill="#8b7f9b"/><rect x="831.1" y="1163.1" width="7" height="7" fill="#200439"/><rect x="831.1" y="1179.9" width="7" height="7" fill="#8b7f9b"/><rect x="831.1" y="1196.7" width="7" height="7" fill="#ffb68c"/><rect x="831.1" y="1213.5" width="7" height="7" fill="#200439"/><rect x="831.1" y="1230.3" width="7" height="7" fill="#ff7a30"/><rect x="831.1" y="1314.3" width="7" height="7" fill="#200439"/><rect x="831.1" y="1331.1" width="7" height="7" fill="#200439"/><rect x="831.1" y="1347.9" width="7" height="7" fill="#ffe1dc"/><rect x="831.1" y="1364.7" width="7" height="7" fill="#200439"/><rect x="831.1" y="1381.5" width="7" height="7" fill="#ffb68c"/><rect x="831.1" y="1389.9" width="7" height="7" fill="#200439"/><rect x="831.1" y="1398.3" width="7" height="7" fill="#200439"/><rect x="831.1" y="1415.1" width="7" height="7" fill="#200439"/><rect x="831.1" y="1448.7" width="7" height="7" fill="#200439"/><rect x="839.5" y="1137.9" width="7" height="7" fill="#200439"/><rect x="839.5" y="1154.7" width="7" height="7" fill="#ff7a30"/><rect x="839.5" y="1171.5" width="7" height="7" fill="#ff7a30"/><rect x="839.5" y="1188.3" width="7" height="7" fill="#ff7a30"/><rect x="839.5" y="1205.1" width="7" height="7" fill="#200439"/><rect x="839.5" y="1221.9" width="7" height="7" fill="#200439"/><rect x="839.5" y="1230.3" width="7" height="7" fill="#ffb68c"/><rect x="839.5" y="1255.5" width="7" height="7" fill="#200439"/><rect x="839.5" y="1289.1" width="7" height="7" fill="#200439"/><rect x="839.5" y="1305.9" width="7" height="7" fill="#8b7f9b"/><rect x="839.5" y="1322.7" width="7" height="7" fill="#200439"/><rect x="839.5" y="1339.5" width="7" height="7" fill="#200439"/><rect x="839.5" y="1356.3" width="7" height="7" fill="#200439"/><rect x="839.5" y="1373.1" width="7" height="7" fill="#200439"/><rect x="839.5" y="1389.9" width="7" height="7" fill="#200439"/><rect x="839.5" y="1423.5" width="7" height="7" fill="#200439"/><rect x="839.5" y="1440.3" width="7" height="7" fill="#200439"/><rect x="847.9" y="1179.9" width="7" height="7" fill="#200439"/><rect x="847.9" y="1213.5" width="7" height="7" fill="#200439"/><rect x="847.9" y="1230.3" width="7" height="7" fill="#200439"/><rect x="847.9" y="1247.1" width="7" height="7" fill="#200439"/><rect x="847.9" y="1263.9" width="7" height="7" fill="#ffb68c"/><rect x="847.9" y="1280.7" width="7" height="7" fill="#200439"/><rect x="847.9" y="1297.5" width="7" height="7" fill="#200439"/><rect x="847.9" y="1314.3" width="7" height="7" fill="#200439"/><rect x="847.9" y="1331.1" width="7" height="7" fill="#200439"/><rect x="847.9" y="1347.9" width="7" height="7" fill="#200439"/><rect x="847.9" y="1364.7" width="7" height="7" fill="#200439"/><rect x="847.9" y="1381.5" width="7" height="7" fill="#200439"/><rect x="847.9" y="1398.3" width="7" height="7" fill="#200439"/><rect x="847.9" y="1415.1" width="7" height="7" fill="#200439"/><rect x="847.9" y="1448.7" width="7" height="7" fill="#200439"/><rect x="856.3" y="1154.7" width="7" height="7" fill="#200439"/><rect x="856.3" y="1171.5" width="7" height="7" fill="#200439"/><rect x="856.3" y="1188.3" width="7" height="7" fill="#200439"/><rect x="856.3" y="1205.1" width="7" height="7" fill="#8b7f9b"/><rect x="856.3" y="1221.9" width="7" height="7" fill="#200439"/><rect x="856.3" y="1230.3" width="7" height="7" fill="#200439"/><rect x="856.3" y="1238.7" width="7" height="7" fill="#ffe1dc"/><rect x="856.3" y="1255.5" width="7" height="7" fill="#200439"/><rect x="856.3" y="1263.9" width="7" height="7" fill="#200439"/><rect x="856.3" y="1272.3" width="7" height="7" fill="#200439"/><rect x="856.3" y="1280.7" width="7" height="7" fill="#200439"/><rect x="856.3" y="1289.1" width="7" height="7" fill="#8b7f9b"/><rect x="856.3" y="1305.9" width="7" height="7" fill="#200439"/><rect x="856.3" y="1339.5" width="7" height="7" fill="#200439"/><rect x="856.3" y="1356.3" width="7" height="7" fill="#ffe1dc"/><rect x="856.3" y="1373.1" width="7" height="7" fill="#8b7f9b"/><rect x="856.3" y="1406.7" width="7" height="7" fill="#200439"/><rect x="856.3" y="1423.5" width="7" height="7" fill="#200439"/><rect x="864.7" y="1163.1" width="7" height="7" fill="#ffb68c"/><rect x="864.7" y="1196.7" width="7" height="7" fill="#8b7f9b"/><rect x="864.7" y="1230.3" width="7" height="7" fill="#8b7f9b"/><rect x="864.7" y="1247.1" width="7" height="7" fill="#200439"/><rect x="864.7" y="1255.5" width="7" height="7" fill="#200439"/><rect x="864.7" y="1280.7" width="7" height="7" fill="#200439"/><rect x="864.7" y="1297.5" width="7" height="7" fill="#200439"/><rect x="864.7" y="1322.7" width="7" height="7" fill="#200439"/><rect x="864.7" y="1331.1" width="7" height="7" fill="#200439"/><rect x="864.7" y="1347.9" width="7" height="7" fill="#200439"/><rect x="864.7" y="1364.7" width="7" height="7" fill="#200439"/><rect x="864.7" y="1381.5" width="7" height="7" fill="#200439"/><rect x="864.7" y="1398.3" width="7" height="7" fill="#ffb68c"/><rect x="864.7" y="1415.1" width="7" height="7" fill="#200439"/><rect x="873.1" y="1171.5" width="7" height="7" fill="#200439"/><rect x="873.1" y="1188.3" width="7" height="7" fill="#200439"/><rect x="873.1" y="1221.9" width="7" height="7" fill="#200439"/><rect x="873.1" y="1238.7" width="7" height="7" fill="#200439"/><rect x="873.1" y="1255.5" width="7" height="7" fill="#200439"/><rect x="873.1" y="1272.3" width="7" height="7" fill="#200439"/><rect x="873.1" y="1289.1" width="7" height="7" fill="#200439"/><rect x="873.1" y="1305.9" width="7" height="7" fill="#200439"/><rect x="873.1" y="1373.1" width="7" height="7" fill="#200439"/><rect x="873.1" y="1389.9" width="7" height="7" fill="#8b7f9b"/><rect x="873.1" y="1406.7" width="7" height="7" fill="#ffb68c"/><rect x="873.1" y="1415.1" width="7" height="7" fill="#200439"/><rect x="873.1" y="1423.5" width="7" height="7" fill="#200439"/><rect x="873.1" y="1431.9" width="7" height="7" fill="#ffb68c"/><rect x="873.1" y="1473.9" width="7" height="7" fill="#200439"/><rect x="881.5" y="1163.1" width="7" height="7" fill="#200439"/><rect x="881.5" y="1196.7" width="7" height="7" fill="#8b7f9b"/><rect x="881.5" y="1213.5" width="7" height="7" fill="#200439"/><rect x="881.5" y="1247.1" width="7" height="7" fill="#200439"/><rect x="881.5" y="1263.9" width="7" height="7" fill="#200439"/><rect x="881.5" y="1280.7" width="7" height="7" fill="#ff7a30"/><rect x="881.5" y="1297.5" width="7" height="7" fill="#200439"/><rect x="881.5" y="1331.1" width="7" height="7" fill="#200439"/><rect x="881.5" y="1347.9" width="7" height="7" fill="#200439"/><rect x="881.5" y="1364.7" width="7" height="7" fill="#200439"/><rect x="881.5" y="1381.5" width="7" height="7" fill="#200439"/><rect x="881.5" y="1398.3" width="7" height="7" fill="#200439"/><rect x="881.5" y="1431.9" width="7" height="7" fill="#8b7f9b"/><rect x="889.9" y="1121.1" width="7" height="7" fill="#8b7f9b"/><rect x="889.9" y="1137.9" width="7" height="7" fill="#ff7a30"/><rect x="889.9" y="1154.7" width="7" height="7" fill="#ff7a30"/><rect x="889.9" y="1171.5" width="7" height="7" fill="#200439"/><rect x="889.9" y="1205.1" width="7" height="7" fill="#200439"/><rect x="889.9" y="1221.9" width="7" height="7" fill="#ff7a30"/><rect x="889.9" y="1238.7" width="7" height="7" fill="#200439"/><rect x="889.9" y="1255.5" width="7" height="7" fill="#200439"/><rect x="889.9" y="1272.3" width="7" height="7" fill="#200439"/><rect x="889.9" y="1289.1" width="7" height="7" fill="#200439"/><rect x="889.9" y="1305.9" width="7" height="7" fill="#8b7f9b"/><rect x="889.9" y="1322.7" width="7" height="7" fill="#200439"/><rect x="889.9" y="1339.5" width="7" height="7" fill="#8b7f9b"/><rect x="889.9" y="1356.3" width="7" height="7" fill="#200439"/><rect x="889.9" y="1373.1" width="7" height="7" fill="#200439"/><rect x="889.9" y="1381.5" width="7" height="7" fill="#200439"/><rect x="889.9" y="1389.9" width="7" height="7" fill="#200439"/><rect x="889.9" y="1406.7" width="7" height="7" fill="#200439"/><rect x="889.9" y="1415.1" width="7" height="7" fill="#200439"/><rect x="889.9" y="1423.5" width="7" height="7" fill="#200439"/><rect x="898.3" y="1146.3" width="7" height="7" fill="#200439"/><rect x="898.3" y="1163.1" width="7" height="7" fill="#200439"/><rect x="898.3" y="1179.9" width="7" height="7" fill="#200439"/><rect x="898.3" y="1196.7" width="7" height="7" fill="#200439"/><rect x="898.3" y="1213.5" width="7" height="7" fill="#8b7f9b"/><rect x="898.3" y="1230.3" width="7" height="7" fill="#200439"/><rect x="898.3" y="1247.1" width="7" height="7" fill="#ffe1dc"/><rect x="898.3" y="1255.5" width="7" height="7" fill="#200439"/><rect x="898.3" y="1263.9" width="7" height="7" fill="#ffe1dc"/><rect x="898.3" y="1280.7" width="7" height="7" fill="#200439"/><rect x="898.3" y="1289.1" width="7" height="7" fill="#200439"/><rect x="898.3" y="1314.3" width="7" height="7" fill="#200439"/><rect x="898.3" y="1331.1" width="7" height="7" fill="#200439"/><rect x="898.3" y="1347.9" width="7" height="7" fill="#200439"/><rect x="898.3" y="1364.7" width="7" height="7" fill="#200439"/><rect x="898.3" y="1381.5" width="7" height="7" fill="#ff7a30"/><rect x="898.3" y="1398.3" width="7" height="7" fill="#ffe1dc"/><rect x="898.3" y="1415.1" width="7" height="7" fill="#200439"/><rect x="898.3" y="1431.9" width="7" height="7" fill="#200439"/><rect x="906.7" y="1154.7" width="7" height="7" fill="#200439"/><rect x="906.7" y="1171.5" width="7" height="7" fill="#200439"/><rect x="906.7" y="1188.3" width="7" height="7" fill="#200439"/><rect x="906.7" y="1205.1" width="7" height="7" fill="#ffe1dc"/><rect x="906.7" y="1238.7" width="7" height="7" fill="#200439"/><rect x="906.7" y="1255.5" width="7" height="7" fill="#200439"/><rect x="906.7" y="1263.9" width="7" height="7" fill="#200439"/><rect x="906.7" y="1272.3" width="7" height="7" fill="#200439"/><rect x="906.7" y="1289.1" width="7" height="7" fill="#200439"/><rect x="906.7" y="1305.9" width="7" height="7" fill="#ff7a30"/><rect x="906.7" y="1322.7" width="7" height="7" fill="#200439"/><rect x="906.7" y="1339.5" width="7" height="7" fill="#200439"/><rect x="906.7" y="1356.3" width="7" height="7" fill="#ff7a30"/><rect x="906.7" y="1373.1" width="7" height="7" fill="#200439"/><rect x="906.7" y="1381.5" width="7" height="7" fill="#200439"/><rect x="906.7" y="1389.9" width="7" height="7" fill="#200439"/><rect x="906.7" y="1406.7" width="7" height="7" fill="#200439"/><rect x="906.7" y="1423.5" width="7" height="7" fill="#200439"/><rect x="915.1" y="1179.9" width="7" height="7" fill="#200439"/><rect x="915.1" y="1196.7" width="7" height="7" fill="#200439"/><rect x="915.1" y="1213.5" width="7" height="7" fill="#8b7f9b"/><rect x="915.1" y="1230.3" width="7" height="7" fill="#200439"/><rect x="915.1" y="1247.1" width="7" height="7" fill="#200439"/><rect x="915.1" y="1280.7" width="7" height="7" fill="#200439"/><rect x="915.1" y="1289.1" width="7" height="7" fill="#200439"/><rect x="915.1" y="1297.5" width="7" height="7" fill="#200439"/><rect x="915.1" y="1314.3" width="7" height="7" fill="#200439"/><rect x="915.1" y="1331.1" width="7" height="7" fill="#200439"/><rect x="915.1" y="1347.9" width="7" height="7" fill="#200439"/><rect x="915.1" y="1364.7" width="7" height="7" fill="#200439"/><rect x="915.1" y="1381.5" width="7" height="7" fill="#200439"/><rect x="915.1" y="1398.3" width="7" height="7" fill="#200439"/><rect x="915.1" y="1406.7" width="7" height="7" fill="#200439"/><rect x="915.1" y="1415.1" width="7" height="7" fill="#200439"/><rect x="915.1" y="1431.9" width="7" height="7" fill="#200439"/><rect x="923.5" y="1171.5" width="7" height="7" fill="#8b7f9b"/><rect x="923.5" y="1188.3" width="7" height="7" fill="#200439"/><rect x="923.5" y="1205.1" width="7" height="7" fill="#200439"/><rect x="923.5" y="1221.9" width="7" height="7" fill="#200439"/><rect x="923.5" y="1255.5" width="7" height="7" fill="#ff7a30"/><rect x="923.5" y="1263.9" width="7" height="7" fill="#200439"/><rect x="923.5" y="1272.3" width="7" height="7" fill="#200439"/><rect x="923.5" y="1305.9" width="7" height="7" fill="#200439"/><rect x="923.5" y="1322.7" width="7" height="7" fill="#200439"/><rect x="923.5" y="1339.5" width="7" height="7" fill="#200439"/><rect x="923.5" y="1356.3" width="7" height="7" fill="#200439"/><rect x="923.5" y="1373.1" width="7" height="7" fill="#8b7f9b"/><rect x="923.5" y="1389.9" width="7" height="7" fill="#200439"/><rect x="923.5" y="1406.7" width="7" height="7" fill="#200439"/><rect x="923.5" y="1423.5" width="7" height="7" fill="#ffe1dc"/><rect x="923.5" y="1440.3" width="7" height="7" fill="#8b7f9b"/><rect x="931.9" y="1146.3" width="7" height="7" fill="#200439"/><rect x="931.9" y="1163.1" width="7" height="7" fill="#200439"/><rect x="931.9" y="1171.5" width="7" height="7" fill="#200439"/><rect x="931.9" y="1179.9" width="7" height="7" fill="#200439"/><rect x="931.9" y="1196.7" width="7" height="7" fill="#8b7f9b"/><rect x="931.9" y="1213.5" width="7" height="7" fill="#ff7a30"/><rect x="931.9" y="1230.3" width="7" height="7" fill="#200439"/><rect x="931.9" y="1247.1" width="7" height="7" fill="#200439"/><rect x="931.9" y="1263.9" width="7" height="7" fill="#200439"/><rect x="931.9" y="1280.7" width="7" height="7" fill="#200439"/><rect x="931.9" y="1314.3" width="7" height="7" fill="#200439"/><rect x="931.9" y="1347.9" width="7" height="7" fill="#200439"/><rect x="931.9" y="1364.7" width="7" height="7" fill="#200439"/><rect x="931.9" y="1373.1" width="7" height="7" fill="#200439"/><rect x="931.9" y="1398.3" width="7" height="7" fill="#200439"/><rect x="931.9" y="1415.1" width="7" height="7" fill="#200439"/><rect x="931.9" y="1440.3" width="7" height="7" fill="#8b7f9b"/><rect x="931.9" y="1448.7" width="7" height="7" fill="#200439"/><rect x="940.3" y="1146.3" width="7" height="7" fill="#200439"/><rect x="940.3" y="1171.5" width="7" height="7" fill="#ff7a30"/><rect x="940.3" y="1188.3" width="7" height="7" fill="#200439"/><rect x="940.3" y="1205.1" width="7" height="7" fill="#ffe1dc"/><rect x="940.3" y="1221.9" width="7" height="7" fill="#200439"/><rect x="940.3" y="1238.7" width="7" height="7" fill="#200439"/><rect x="940.3" y="1247.1" width="7" height="7" fill="#ff7a30"/><rect x="940.3" y="1255.5" width="7" height="7" fill="#200439"/><rect x="940.3" y="1272.3" width="7" height="7" fill="#200439"/><rect x="940.3" y="1289.1" width="7" height="7" fill="#200439"/><rect x="940.3" y="1305.9" width="7" height="7" fill="#200439"/><rect x="940.3" y="1322.7" width="7" height="7" fill="#200439"/><rect x="940.3" y="1331.1" width="7" height="7" fill="#ff7a30"/><rect x="940.3" y="1339.5" width="7" height="7" fill="#200439"/><rect x="940.3" y="1356.3" width="7" height="7" fill="#ffe1dc"/><rect x="940.3" y="1389.9" width="7" height="7" fill="#8b7f9b"/><rect x="940.3" y="1406.7" width="7" height="7" fill="#200439"/><rect x="948.7" y="1146.3" width="7" height="7" fill="#200439"/><rect x="948.7" y="1163.1" width="7" height="7" fill="#200439"/><rect x="948.7" y="1196.7" width="7" height="7" fill="#200439"/><rect x="948.7" y="1221.9" width="7" height="7" fill="#200439"/><rect x="948.7" y="1247.1" width="7" height="7" fill="#200439"/><rect x="948.7" y="1289.1" width="7" height="7" fill="#ffb68c"/><rect x="948.7" y="1297.5" width="7" height="7" fill="#200439"/><rect x="948.7" y="1322.7" width="7" height="7" fill="#200439"/><rect x="948.7" y="1331.1" width="7" height="7" fill="#200439"/><rect x="948.7" y="1347.9" width="7" height="7" fill="#8b7f9b"/><rect x="948.7" y="1364.7" width="7" height="7" fill="#200439"/><rect x="948.7" y="1398.3" width="7" height="7" fill="#200439"/><rect x="948.7" y="1415.1" width="7" height="7" fill="#ff7a30"/><rect x="948.7" y="1448.7" width="7" height="7" fill="#200439"/><rect x="957.1" y="1154.7" width="7" height="7" fill="#200439"/><rect x="957.1" y="1171.5" width="7" height="7" fill="#ffb68c"/><rect x="957.1" y="1196.7" width="7" height="7" fill="#ffe1dc"/><rect x="957.1" y="1205.1" width="7" height="7" fill="#ffb68c"/><rect x="957.1" y="1221.9" width="7" height="7" fill="#200439"/><rect x="957.1" y="1238.7" width="7" height="7" fill="#200439"/><rect x="957.1" y="1255.5" width="7" height="7" fill="#200439"/><rect x="957.1" y="1289.1" width="7" height="7" fill="#200439"/><rect x="957.1" y="1305.9" width="7" height="7" fill="#200439"/><rect x="957.1" y="1339.5" width="7" height="7" fill="#200439"/><rect x="957.1" y="1373.1" width="7" height="7" fill="#200439"/><rect x="957.1" y="1389.9" width="7" height="7" fill="#200439"/><rect x="957.1" y="1406.7" width="7" height="7" fill="#200439"/><rect x="957.1" y="1415.1" width="7" height="7" fill="#8b7f9b"/><rect x="957.1" y="1423.5" width="7" height="7" fill="#8b7f9b"/><rect x="965.5" y="1213.5" width="7" height="7" fill="#8b7f9b"/><rect x="965.5" y="1247.1" width="7" height="7" fill="#200439"/><rect x="965.5" y="1263.9" width="7" height="7" fill="#ff7a30"/><rect x="965.5" y="1280.7" width="7" height="7" fill="#8b7f9b"/><rect x="965.5" y="1297.5" width="7" height="7" fill="#ff7a30"/><rect x="965.5" y="1314.3" width="7" height="7" fill="#200439"/><rect x="965.5" y="1322.7" width="7" height="7" fill="#200439"/><rect x="965.5" y="1331.1" width="7" height="7" fill="#200439"/><rect x="965.5" y="1347.9" width="7" height="7" fill="#8b7f9b"/><rect x="965.5" y="1364.7" width="7" height="7" fill="#ff7a30"/><rect x="965.5" y="1381.5" width="7" height="7" fill="#200439"/><rect x="965.5" y="1389.9" width="7" height="7" fill="#200439"/><rect x="965.5" y="1398.3" width="7" height="7" fill="#ff7a30"/><rect x="965.5" y="1415.1" width="7" height="7" fill="#200439"/><rect x="973.9" y="1205.1" width="7" height="7" fill="#200439"/><rect x="973.9" y="1221.9" width="7" height="7" fill="#200439"/><rect x="973.9" y="1238.7" width="7" height="7" fill="#200439"/><rect x="973.9" y="1255.5" width="7" height="7" fill="#200439"/><rect x="973.9" y="1272.3" width="7" height="7" fill="#ffb68c"/><rect x="973.9" y="1289.1" width="7" height="7" fill="#200439"/><rect x="973.9" y="1305.9" width="7" height="7" fill="#200439"/><rect x="973.9" y="1322.7" width="7" height="7" fill="#200439"/><rect x="973.9" y="1339.5" width="7" height="7" fill="#200439"/><rect x="973.9" y="1356.3" width="7" height="7" fill="#200439"/><rect x="973.9" y="1389.9" width="7" height="7" fill="#200439"/><rect x="973.9" y="1406.7" width="7" height="7" fill="#ffb68c"/><rect x="982.3" y="1179.9" width="7" height="7" fill="#200439"/><rect x="982.3" y="1213.5" width="7" height="7" fill="#200439"/><rect x="982.3" y="1230.3" width="7" height="7" fill="#200439"/><rect x="982.3" y="1247.1" width="7" height="7" fill="#200439"/><rect x="982.3" y="1280.7" width="7" height="7" fill="#200439"/><rect x="982.3" y="1289.1" width="7" height="7" fill="#ff7a30"/><rect x="982.3" y="1297.5" width="7" height="7" fill="#200439"/><rect x="982.3" y="1314.3" width="7" height="7" fill="#200439"/><rect x="982.3" y="1347.9" width="7" height="7" fill="#200439"/><rect x="982.3" y="1364.7" width="7" height="7" fill="#200439"/><rect x="982.3" y="1381.5" width="7" height="7" fill="#200439"/><rect x="982.3" y="1415.1" width="7" height="7" fill="#ff7a30"/><rect x="982.3" y="1448.7" width="7" height="7" fill="#200439"/><rect x="990.7" y="1188.3" width="7" height="7" fill="#200439"/><rect x="990.7" y="1213.5" width="7" height="7" fill="#200439"/><rect x="990.7" y="1221.9" width="7" height="7" fill="#200439"/><rect x="990.7" y="1238.7" width="7" height="7" fill="#8b7f9b"/><rect x="990.7" y="1255.5" width="7" height="7" fill="#200439"/><rect x="990.7" y="1272.3" width="7" height="7" fill="#8b7f9b"/><rect x="990.7" y="1297.5" width="7" height="7" fill="#200439"/><rect x="990.7" y="1305.9" width="7" height="7" fill="#200439"/><rect x="990.7" y="1314.3" width="7" height="7" fill="#8b7f9b"/><rect x="990.7" y="1322.7" width="7" height="7" fill="#200439"/><rect x="990.7" y="1339.5" width="7" height="7" fill="#200439"/><rect x="990.7" y="1347.9" width="7" height="7" fill="#200439"/><rect x="990.7" y="1356.3" width="7" height="7" fill="#8b7f9b"/><rect x="990.7" y="1373.1" width="7" height="7" fill="#200439"/><rect x="990.7" y="1389.9" width="7" height="7" fill="#8b7f9b"/><rect x="999.1" y="1196.7" width="7" height="7" fill="#200439"/><rect x="999.1" y="1230.3" width="7" height="7" fill="#200439"/><rect x="999.1" y="1238.7" width="7" height="7" fill="#200439"/><rect x="999.1" y="1247.1" width="7" height="7" fill="#ffb68c"/><rect x="999.1" y="1272.3" width="7" height="7" fill="#200439"/><rect x="999.1" y="1280.7" width="7" height="7" fill="#200439"/><rect x="999.1" y="1289.1" width="7" height="7" fill="#ff7a30"/><rect x="999.1" y="1297.5" width="7" height="7" fill="#200439"/><rect x="999.1" y="1331.1" width="7" height="7" fill="#200439"/><rect x="999.1" y="1347.9" width="7" height="7" fill="#200439"/><rect x="999.1" y="1364.7" width="7" height="7" fill="#200439"/><rect x="999.1" y="1381.5" width="7" height="7" fill="#200439"/><rect x="999.1" y="1398.3" width="7" height="7" fill="#200439"/><rect x="999.1" y="1415.1" width="7" height="7" fill="#200439"/><rect x="1007.5" y="1188.3" width="7" height="7" fill="#ff7a30"/><rect x="1007.5" y="1205.1" width="7" height="7" fill="#200439"/><rect x="1007.5" y="1221.9" width="7" height="7" fill="#8b7f9b"/><rect x="1007.5" y="1238.7" width="7" height="7" fill="#200439"/><rect x="1007.5" y="1255.5" width="7" height="7" fill="#200439"/><rect x="1007.5" y="1272.3" width="7" height="7" fill="#200439"/><rect x="1007.5" y="1289.1" width="7" height="7" fill="#200439"/><rect x="1007.5" y="1297.5" width="7" height="7" fill="#200439"/><rect x="1007.5" y="1305.9" width="7" height="7" fill="#8b7f9b"/><rect x="1007.5" y="1339.5" width="7" height="7" fill="#200439"/><rect x="1007.5" y="1347.9" width="7" height="7" fill="#ffe1dc"/><rect x="1007.5" y="1373.1" width="7" height="7" fill="#ff7a30"/><rect x="1007.5" y="1398.3" width="7" height="7" fill="#ff7a30"/><rect x="1007.5" y="1406.7" width="7" height="7" fill="#8b7f9b"/><rect x="1007.5" y="1440.3" width="7" height="7" fill="#ffe1dc"/><rect x="1015.9" y="1179.9" width="7" height="7" fill="#ff7a30"/><rect x="1015.9" y="1221.9" width="7" height="7" fill="#ff7a30"/><rect x="1015.9" y="1230.3" width="7" height="7" fill="#ff7a30"/><rect x="1015.9" y="1247.1" width="7" height="7" fill="#200439"/><rect x="1015.9" y="1263.9" width="7" height="7" fill="#200439"/><rect x="1015.9" y="1272.3" width="7" height="7" fill="#200439"/><rect x="1015.9" y="1297.5" width="7" height="7" fill="#200439"/><rect x="1015.9" y="1314.3" width="7" height="7" fill="#ffb68c"/><rect x="1015.9" y="1347.9" width="7" height="7" fill="#200439"/><rect x="1015.9" y="1364.7" width="7" height="7" fill="#ffb68c"/><rect x="1015.9" y="1381.5" width="7" height="7" fill="#200439"/><rect x="1024.3" y="1221.9" width="7" height="7" fill="#200439"/><rect x="1024.3" y="1255.5" width="7" height="7" fill="#8b7f9b"/><rect x="1024.3" y="1272.3" width="7" height="7" fill="#8b7f9b"/><rect x="1024.3" y="1305.9" width="7" height="7" fill="#200439"/><rect x="1024.3" y="1339.5" width="7" height="7" fill="#200439"/><rect x="1024.3" y="1356.3" width="7" height="7" fill="#8b7f9b"/><rect x="1032.7" y="1213.5" width="7" height="7" fill="#8b7f9b"/><rect x="1032.7" y="1247.1" width="7" height="7" fill="#ffe1dc"/><rect x="1032.7" y="1297.5" width="7" height="7" fill="#200439"/><rect x="1032.7" y="1314.3" width="7" height="7" fill="#ff7a30"/><rect x="1032.7" y="1381.5" width="7" height="7" fill="#ff7a30"/><rect x="1032.7" y="1415.1" width="7" height="7" fill="#200439"/><rect x="1041.1" y="1238.7" width="7" height="7" fill="#200439"/><rect x="1041.1" y="1356.3" width="7" height="7" fill="#ffe1dc"/><rect x="1049.5" y="1230.3" width="7" height="7" fill="#ffe1dc"/><rect x="1049.5" y="1263.9" width="7" height="7" fill="#ffb68c"/><rect x="1049.5" y="1347.9" width="7" height="7" fill="#8b7f9b"/><rect x="1057.9" y="1255.5" width="7" height="7" fill="#8b7f9b"/><rect x="1057.9" y="1322.7" width="7" height="7" fill="#200439"/><rect x="1066.3" y="1230.3" width="7" height="7" fill="#200439"/><rect x="1066.3" y="1280.7" width="7" height="7" fill="#200439"/><rect x="1066.3" y="1297.5" width="7" height="7" fill="#200439"/><rect x="1066.3" y="1322.7" width="7" height="7" fill="#200439"/><rect x="1074.7" y="1247.1" width="7" height="7" fill="#200439"/><rect x="1074.7" y="1305.9" width="7" height="7" fill="#ff7a30"/></g>
<line x1="724" y1="1154" x2="906" y2="1338" stroke="#ffb38a" stroke-width="7.5" stroke-linecap="round"/>
<line x1="883" y1="1194" x2="980" y2="1420" stroke="#ff7a30" stroke-width="7.5" stroke-linecap="round"/>
<line x1="933" y1="1229" x2="850" y2="1334" stroke="#ff4f5a" stroke-width="7.5" stroke-linecap="round"/>
<line x1="1045" y1="1230" x2="944" y2="1279" stroke="#8b7f9b" stroke-width="7.5" stroke-linecap="round"/>
<line x1="812" y1="1351" x2="885" y2="1362" stroke="#22063b" stroke-width="7.5" stroke-linecap="round"/>
<g><rect x="1187.00" y="918.00" width="15.15" height="15.15" fill="#ffb48c"/><rect x="1201.85" y="918.00" width="15.15" height="15.15" fill="#ff7a2e"/><rect x="1216.70" y="918.00" width="15.15" height="15.15" fill="#ffb48c"/><rect x="1231.55" y="918.00" width="15.15" height="15.15" fill="#ff7a2e"/><rect x="1246.40" y="918.00" width="15.15" height="15.15" fill="#ff7a2e"/><rect x="1261.25" y="918.00" width="15.15" height="15.15" fill="#ffb48c"/><rect x="1276.10" y="918.00" width="15.15" height="15.15" fill="#ff7a2e"/><rect x="1290.95" y="918.00" width="15.15" height="15.15" fill="#ffb48c"/><rect x="1305.80" y="918.00" width="15.15" height="15.15" fill="#ff7a2e"/><rect x="1320.65" y="918.00" width="15.15" height="15.15" fill="#ffb48c"/><rect x="1335.50" y="918.00" width="15.15" height="15.15" fill="#ffb48c"/><rect x="1350.35" y="918.00" width="15.15" height="15.15" fill="#ff7a2e"/><rect x="1365.20" y="918.00" width="15.15" height="15.15" fill="#ffb48c"/><rect x="1380.05" y="918.00" width="15.15" height="15.15" fill="#ff7a2e"/><rect x="1394.90" y="918.00" width="15.15" height="15.15" fill="#ffb48c"/><rect x="1409.75" y="918.00" width="15.15" height="15.15" fill="#ff7a2e"/><rect x="1424.60" y="918.00" width="15.15" height="15.15" fill="#ffb48c"/><rect x="1439.45" y="918.00" width="15.15" height="15.15" fill="#ffb48c"/><rect x="1454.30" y="918.00" width="15.15" height="15.15" fill="#ff7a2e"/><rect x="1187.00" y="932.85" width="15.15" height="15.15" fill="#ff7a2e"/><rect x="1261.25" y="932.85" width="15.15" height="15.15" fill="#ffb48c"/><rect x="1424.60" y="932.85" width="15.15" height="15.15" fill="#ff7a2e"/><rect x="1454.30" y="932.85" width="15.15" height="15.15" fill="#ffb48c"/><rect x="1187.00" y="947.70" width="15.15" height="15.15" fill="#ffb48c"/><rect x="1216.70" y="947.70" width="15.15" height="15.15" fill="#ffb48c"/><rect x="1231.55" y="947.70" width="15.15" height="15.15" fill="#ffb48c"/><rect x="1261.25" y="947.70" width="15.15" height="15.15" fill="#ff7a2e"/><rect x="1276.10" y="947.70" width="15.15" height="15.15" fill="#ffb48c"/><rect x="1290.95" y="947.70" width="15.15" height="15.15" fill="#ffb48c"/><rect x="1305.80" y="947.70" width="15.15" height="15.15" fill="#ffb48c"/><rect x="1320.65" y="947.70" width="15.15" height="15.15" fill="#ff7a2e"/><rect x="1335.50" y="947.70" width="15.15" height="15.15" fill="#ff7a2e"/><rect x="1350.35" y="947.70" width="15.15" height="15.15" fill="#ffb48c"/><rect x="1365.20" y="947.70" width="15.15" height="15.15" fill="#ff7a2e"/><rect x="1380.05" y="947.70" width="15.15" height="15.15" fill="#ffb48c"/><rect x="1394.90" y="947.70" width="15.15" height="15.15" fill="#ff7a2e"/><rect x="1424.60" y="947.70" width="15.15" height="15.15" fill="#ff7a2e"/><rect x="1454.30" y="947.70" width="15.15" height="15.15" fill="#ff7a2e"/><rect x="1187.00" y="962.55" width="15.15" height="15.15" fill="#ffb48c"/><rect x="1216.70" y="962.55" width="15.15" height="15.15" fill="#ff7a2e"/><rect x="1424.60" y="962.55" width="15.15" height="15.15" fill="#ffb48c"/><rect x="1454.30" y="962.55" width="15.15" height="15.15" fill="#ff7a2e"/><rect x="1187.00" y="977.40" width="15.15" height="15.15" fill="#ff7a2e"/><rect x="1216.70" y="977.40" width="15.15" height="15.15" fill="#ff7a2e"/><rect x="1246.40" y="977.40" width="15.15" height="15.15" fill="#ff7a2e"/><rect x="1261.25" y="977.40" width="15.15" height="15.15" fill="#ffb48c"/><rect x="1276.10" y="977.40" width="15.15" height="15.15" fill="#ff7a2e"/><rect x="1290.95" y="977.40" width="15.15" height="15.15" fill="#ff7a2e"/><rect x="1305.80" y="977.40" width="15.15" height="15.15" fill="#ffb48c"/><rect x="1320.65" y="977.40" width="15.15" height="15.15" fill="#ff7a2e"/><rect x="1335.50" y="977.40" width="15.15" height="15.15" fill="#ffb48c"/><rect x="1350.35" y="977.40" width="15.15" height="15.15" fill="#ffb48c"/><rect x="1365.20" y="977.40" width="15.15" height="15.15" fill="#ff7a2e"/><rect x="1380.05" y="977.40" width="15.15" height="15.15" fill="#ffb48c"/><rect x="1394.90" y="977.40" width="15.15" height="15.15" fill="#ff7a2e"/><rect x="1424.60" y="977.40" width="15.15" height="15.15" fill="#ffb48c"/><rect x="1454.30" y="977.40" width="15.15" height="15.15" fill="#ffb48c"/><rect x="1187.00" y="992.25" width="15.15" height="15.15" fill="#ff7a2e"/><rect x="1246.40" y="992.25" width="15.15" height="15.15" fill="#ffb48c"/><rect x="1394.90" y="992.25" width="15.15" height="15.15" fill="#ffb48c"/><rect x="1424.60" y="992.25" width="15.15" height="15.15" fill="#ff7a2e"/><rect x="1454.30" y="992.25" width="15.15" height="15.15" fill="#ff7a2e"/><rect x="1187.00" y="1007.10" width="15.15" height="15.15" fill="#ffb48c"/><rect x="1216.70" y="1007.10" width="15.15" height="15.15" fill="#ff7a2e"/><rect x="1246.40" y="1007.10" width="15.15" height="15.15" fill="#ff7a2e"/><rect x="1276.10" y="1007.10" width="15.15" height="15.15" fill="#8b7f9b"/><rect x="1290.95" y="1007.10" width="15.15" height="15.15" fill="#22063b"/><rect x="1305.80" y="1007.10" width="15.15" height="15.15" fill="#ff7a2e"/><rect x="1320.65" y="1007.10" width="15.15" height="15.15" fill="#22063b"/><rect x="1335.50" y="1007.10" width="15.15" height="15.15" fill="#8b7f9b"/><rect x="1350.35" y="1007.10" width="15.15" height="15.15" fill="#22063b"/><rect x="1365.20" y="1007.10" width="15.15" height="15.15" fill="#22063b"/><rect x="1394.90" y="1007.10" width="15.15" height="15.15" fill="#ffb48c"/><rect x="1424.60" y="1007.10" width="15.15" height="15.15" fill="#ff7a2e"/><rect x="1454.30" y="1007.10" width="15.15" height="15.15" fill="#ffb48c"/><rect x="1187.00" y="1021.95" width="15.15" height="15.15" fill="#ff7a2e"/><rect x="1216.70" y="1021.95" width="15.15" height="15.15" fill="#ff7a2e"/><rect x="1246.40" y="1021.95" width="15.15" height="15.15" fill="#ffb48c"/><rect x="1276.10" y="1021.95" width="15.15" height="15.15" fill="#22063b"/><rect x="1365.20" y="1021.95" width="15.15" height="15.15" fill="#ff7a2e"/><rect x="1394.90" y="1021.95" width="15.15" height="15.15" fill="#ff7a2e"/><rect x="1424.60" y="1021.95" width="15.15" height="15.15" fill="#ffb48c"/><rect x="1454.30" y="1021.95" width="15.15" height="15.15" fill="#ff7a2e"/><rect x="1187.00" y="1036.80" width="15.15" height="15.15" fill="#ffb48c"/><rect x="1216.70" y="1036.80" width="15.15" height="15.15" fill="#ffb48c"/><rect x="1246.40" y="1036.80" width="15.15" height="15.15" fill="#ffb48c"/><rect x="1276.10" y="1036.80" width="15.15" height="15.15" fill="#22063b"/><rect x="1335.50" y="1036.80" width="15.15" height="15.15" fill="#ffb48c"/><rect x="1365.20" y="1036.80" width="15.15" height="15.15" fill="#22063b"/><rect x="1394.90" y="1036.80" width="15.15" height="15.15" fill="#ffb48c"/><rect x="1424.60" y="1036.80" width="15.15" height="15.15" fill="#ff7a2e"/><rect x="1454.30" y="1036.80" width="15.15" height="15.15" fill="#ffb48c"/><rect x="1216.70" y="1051.65" width="15.15" height="15.15" fill="#ff7a2e"/><rect x="1246.40" y="1051.65" width="15.15" height="15.15" fill="#ff7a2e"/><rect x="1365.20" y="1051.65" width="15.15" height="15.15" fill="#ff7a2e"/><rect x="1394.90" y="1051.65" width="15.15" height="15.15" fill="#ff7a2e"/><rect x="1424.60" y="1051.65" width="15.15" height="15.15" fill="#ffb48c"/><rect x="1187.00" y="1066.50" width="15.15" height="15.15" fill="#ff7a2e"/><rect x="1216.70" y="1066.50" width="15.15" height="15.15" fill="#ffb48c"/><rect x="1246.40" y="1066.50" width="15.15" height="15.15" fill="#ffb48c"/><rect x="1320.65" y="1066.50" width="15.15" height="15.15" fill="#ff7a2e"/><rect x="1335.50" y="1066.50" width="15.15" height="15.15" fill="#22063b"/><rect x="1350.35" y="1066.50" width="15.15" height="15.15" fill="#8b7f9b"/><rect x="1365.20" y="1066.50" width="15.15" height="15.15" fill="#22063b"/><rect x="1394.90" y="1066.50" width="15.15" height="15.15" fill="#ff7a2e"/><rect x="1424.60" y="1066.50" width="15.15" height="15.15" fill="#ff7a2e"/><rect x="1454.30" y="1066.50" width="15.15" height="15.15" fill="#ff7a2e"/><rect x="1187.00" y="1081.35" width="15.15" height="15.15" fill="#ffb48c"/><rect x="1216.70" y="1081.35" width="15.15" height="15.15" fill="#ff7a2e"/><rect x="1246.40" y="1081.35" width="15.15" height="15.15" fill="#ffb48c"/><rect x="1276.10" y="1081.35" width="15.15" height="15.15" fill="#ffb48c"/><rect x="1320.65" y="1081.35" width="15.15" height="15.15" fill="#22063b"/><rect x="1394.90" y="1081.35" width="15.15" height="15.15" fill="#ffb48c"/><rect x="1454.30" y="1081.35" width="15.15" height="15.15" fill="#ff7a2e"/><rect x="1187.00" y="1096.20" width="15.15" height="15.15" fill="#ffb48c"/><rect x="1216.70" y="1096.20" width="15.15" height="15.15" fill="#ff7a2e"/><rect x="1246.40" y="1096.20" width="15.15" height="15.15" fill="#ff7a2e"/><rect x="1290.95" y="1096.20" width="15.15" height="15.15" fill="#ff7a2e"/><rect x="1320.65" y="1096.20" width="15.15" height="15.15" fill="#22063b"/><rect x="1365.20" y="1096.20" width="15.15" height="15.15" fill="#ff7a2e"/><rect x="1394.90" y="1096.20" width="15.15" height="15.15" fill="#ff7a2e"/><rect x="1424.60" y="1096.20" width="15.15" height="15.15" fill="#ff7a2e"/><rect x="1454.30" y="1096.20" width="15.15" height="15.15" fill="#ffb48c"/><rect x="1187.00" y="1111.05" width="15.15" height="15.15" fill="#ff7a2e"/><rect x="1216.70" y="1111.05" width="15.15" height="15.15" fill="#ffb48c"/><rect x="1246.40" y="1111.05" width="15.15" height="15.15" fill="#ffb48c"/><rect x="1394.90" y="1111.05" width="15.15" height="15.15" fill="#ff7a2e"/><rect x="1424.60" y="1111.05" width="15.15" height="15.15" fill="#ffb48c"/><rect x="1454.30" y="1111.05" width="15.15" height="15.15" fill="#ff7a2e"/><rect x="1187.00" y="1125.90" width="15.15" height="15.15" fill="#ff7a2e"/><rect x="1216.70" y="1125.90" width="15.15" height="15.15" fill="#ffb48c"/><rect x="1231.55" y="1125.90" width="15.15" height="15.15" fill="#ff7a2e"/><rect x="1246.40" y="1125.90" width="15.15" height="15.15" fill="#ff7a2e"/><rect x="1261.25" y="1125.90" width="15.15" height="15.15" fill="#ff7a2e"/><rect x="1276.10" y="1125.90" width="15.15" height="15.15" fill="#ffb48c"/><rect x="1290.95" y="1125.90" width="15.15" height="15.15" fill="#ffb48c"/><rect x="1320.65" y="1125.90" width="15.15" height="15.15" fill="#22063b"/><rect x="1350.35" y="1125.90" width="15.15" height="15.15" fill="#ffb48c"/><rect x="1365.20" y="1125.90" width="15.15" height="15.15" fill="#ffb48c"/><rect x="1380.05" y="1125.90" width="15.15" height="15.15" fill="#ff7a2e"/><rect x="1394.90" y="1125.90" width="15.15" height="15.15" fill="#ffb48c"/><rect x="1424.60" y="1125.90" width="15.15" height="15.15" fill="#ffb48c"/><rect x="1454.30" y="1125.90" width="15.15" height="15.15" fill="#ffb48c"/><rect x="1187.00" y="1140.75" width="15.15" height="15.15" fill="#ffb48c"/><rect x="1290.95" y="1140.75" width="15.15" height="15.15" fill="#ffb48c"/><rect x="1424.60" y="1140.75" width="15.15" height="15.15" fill="#ffb48c"/><rect x="1454.30" y="1140.75" width="15.15" height="15.15" fill="#ffb48c"/><rect x="1187.00" y="1155.60" width="15.15" height="15.15" fill="#ffb48c"/><rect x="1216.70" y="1155.60" width="15.15" height="15.15" fill="#ffb48c"/><rect x="1231.55" y="1155.60" width="15.15" height="15.15" fill="#ffb48c"/><rect x="1246.40" y="1155.60" width="15.15" height="15.15" fill="#ff7a2e"/><rect x="1261.25" y="1155.60" width="15.15" height="15.15" fill="#ffb48c"/><rect x="1290.95" y="1155.60" width="15.15" height="15.15" fill="#ffb48c"/><rect x="1305.80" y="1155.60" width="15.15" height="15.15" fill="#ff7a2e"/><rect x="1320.65" y="1155.60" width="15.15" height="15.15" fill="#ffb48c"/><rect x="1335.50" y="1155.60" width="15.15" height="15.15" fill="#ff7a2e"/><rect x="1350.35" y="1155.60" width="15.15" height="15.15" fill="#ffb48c"/><rect x="1365.20" y="1155.60" width="15.15" height="15.15" fill="#ffb48c"/><rect x="1380.05" y="1155.60" width="15.15" height="15.15" fill="#ff7a2e"/><rect x="1394.90" y="1155.60" width="15.15" height="15.15" fill="#ff7a2e"/><rect x="1409.75" y="1155.60" width="15.15" height="15.15" fill="#ffb48c"/><rect x="1424.60" y="1155.60" width="15.15" height="15.15" fill="#ffb48c"/><rect x="1454.30" y="1155.60" width="15.15" height="15.15" fill="#ff7a2e"/><rect x="1187.00" y="1170.45" width="15.15" height="15.15" fill="#ff7a2e"/><rect x="1261.25" y="1170.45" width="15.15" height="15.15" fill="#ff7a2e"/><rect x="1365.20" y="1170.45" width="15.15" height="15.15" fill="#ffb48c"/><rect x="1454.30" y="1170.45" width="15.15" height="15.15" fill="#ffb48c"/><rect x="1187.00" y="1185.30" width="15.15" height="15.15" fill="#ffb48c"/><rect x="1201.85" y="1185.30" width="15.15" height="15.15" fill="#ff7a2e"/><rect x="1216.70" y="1185.30" width="15.15" height="15.15" fill="#ffb48c"/><rect x="1231.55" y="1185.30" width="15.15" height="15.15" fill="#ffb48c"/><rect x="1246.40" y="1185.30" width="15.15" height="15.15" fill="#ff7a2e"/><rect x="1261.25" y="1185.30" width="15.15" height="15.15" fill="#ffb48c"/><rect x="1276.10" y="1185.30" width="15.15" height="15.15" fill="#ffb48c"/><rect x="1290.95" y="1185.30" width="15.15" height="15.15" fill="#ff7a2e"/><rect x="1305.80" y="1185.30" width="15.15" height="15.15" fill="#ffb48c"/><rect x="1320.65" y="1185.30" width="15.15" height="15.15" fill="#ffb48c"/><rect x="1335.50" y="1185.30" width="15.15" height="15.15" fill="#ffb48c"/><rect x="1350.35" y="1185.30" width="15.15" height="15.15" fill="#ff7a2e"/><rect x="1365.20" y="1185.30" width="15.15" height="15.15" fill="#ff7a2e"/><rect x="1380.05" y="1185.30" width="15.15" height="15.15" fill="#ffb48c"/><rect x="1394.90" y="1185.30" width="15.15" height="15.15" fill="#ffb48c"/><rect x="1409.75" y="1185.30" width="15.15" height="15.15" fill="#ffb48c"/><rect x="1424.60" y="1185.30" width="15.15" height="15.15" fill="#ff7a2e"/><rect x="1439.45" y="1185.30" width="15.15" height="15.15" fill="#ff7a2e"/><rect x="1454.30" y="1185.30" width="15.15" height="15.15" fill="#ff7a2e"/></g>
<polygon points="275.0,1858.1 335.0,1897.2 323.8,1912.0 266.6,1872.9" fill="#ffb48c"/>
<polygon points="287.5,1891.6 356.5,1891.6 356.5,1950.3 287.5,1911.2" fill="#22063b"/>
<polygon points="275.0,1858.1 335.0,1897.2 323.8,1912.0 266.6,1872.9" fill="#ffb48c"/>
<polygon points="157.2,1888.0 227.5,1888.0 227.5,1928.5 157.2,1928.5" fill="#ffe6d9"/>
<polygon points="182.0,1862.3 215.8,1881.9 182.0,1902.0" fill="#d8d3de"/>
<path d="M205.7,1898.1 L233.1,1898.1 A27.4,27.4 0 0 0 205.7,1925.4 Z" fill="#ff7a7a"/>
<path d="M83.7,1900.0 H117.2 V1919.6 A33.5,34.9 0 0 0 83.7,1954.5 Z" fill="#ffffff"/>
<path d="M134.5,1957.3 V1923.8 A33.5,33.5 0 0 0 101.0,1957.3 Z" fill="#7a4d9c"/>
<path d="M118.6,2011.7 L170.3,1943.9 A32.9,32.9 0 0 0 175.0,1990.8 L144.3,2031.2 Z" fill="#22063b"/>
<path d="M152.1,1940.5 H118.6 A33.5,33.5 0 0 0 152.1,1974.0 Z" fill="#ffb48c"/>
<polygon points="171.1,1943.3 206.6,1943.3 206.6,2004.7" fill="#d8d3de"/>
<path d="M238.7,1936.3 L273.6,1915.9 L307.9,1936.3 L307.9,1997.7 L291.2,1997.7 A39.1,39.1 0 0 0 241.5,1946.1 L238.7,1946.1 Z" fill="#ffb48c"/>
<polygon points="220.5,1996.3 319.6,2029.3 314.0,2043.2 217.7,2006.1" fill="#22063b"/>
<path d="M221.9,2000.5 V1943.3 H241.5 A32.1,32.1 0 0 1 267.1,2000.5 Z" fill="#ffffff"/>
<path d="M245.7,1990.8 V1967.0 H221.9 A23.7,23.7 0 0 1 245.7,1990.8 Z" fill="#ff7030"/>
<polygon points="152.1,2008.1 187.0,2008.1 187.0,2039.6 152.1,2039.6" fill="#ffffff"/>
<polygon points="192.0,2016.7 295.9,2016.7 295.9,2032.6 192.0,2032.6" fill="#ffe0e0"/>
<polygon points="92.1,2032.6 127.0,2032.6 92.1,2094.0" fill="#ffffff"/>
<polygon points="108.9,2053.6 141.5,2053.6 141.5,2081.5 108.9,2081.5" fill="#ffb48c"/>
<polygon points="149.9,2043.8 220.0,2043.8 220.0,2071.2 149.9,2071.2" fill="#ab8fc1"/>
<path d="M193.2,2087.1 H157.7 A35.5,35.5 0 0 1 193.2,2051.6 Z" fill="#ffb48c"/>
<polygon points="210.8,2092.7 245.7,2032.6 280.5,2092.7" fill="#665479"/>
<path d="M284.7,2069.5 V2036.0 A33.5,33.5 0 0 1 318.2,2069.5 Z" fill="#7a4d9c"/>
<polygon points="590.2,1896.7 661.7,1896.7 661.7,1950.7 590.2,1915.5" fill="#22063b"/>
<polygon points="527.2,1893.1 600.9,1893.1 600.9,1912.9 527.2,1912.9" fill="#ffb48c"/>
<polygon points="515.1,1923.0 588.1,1923.0 588.1,1964.6 515.1,1964.6" fill="#ffe6d9"/>
<path d="M496.3,2082.6 V1998.7 A40.6,40.6 0 0 0 530.9,2028.6 V2082.6 Z" fill="#22063b"/>
<path d="M520.8,1967.8 H486.0 A34.8,34.8 0 0 0 520.8,2002.6 Z" fill="#ffb48c"/>
<polygon points="551.4,1977.0 588.1,1977.0 588.1,2041.4" fill="#d8d3de"/>
<path d="M619.0,1967.8 L654.7,1947.1 L690.5,1967.8 L690.5,2032.5 L670.2,2032.5 A40.6,40.6 0 0 0 619.0,1975.3 Z" fill="#ffb48c"/>
<path d="M600.2,2036.1 V1980.2 A38.4,38.4 0 0 1 650.2,2036.1 Z" fill="#ffffff"/>
<polygon points="590.2,2041.9 699.1,2041.9 699.1,2058.5 590.2,2058.5" fill="#22063b"/>
<polygon points="540.0,2036.7 577.0,2036.7 577.0,2070.2 540.0,2070.2" fill="#ffffff"/>
<polygon points="567.2,2058.1 641.0,2058.1 641.0,2086.7 567.2,2086.7" fill="#ab8fc1"/>
<defs><linearGradient id="g3" x1="0" y1="0" x2="1" y2="0"><stop offset="0" stop-color="#ff7a2e"/><stop offset="1" stop-color="#ff3a3a"/></linearGradient></defs>
<polygon points="832.5,1913.8 996.0,1913.8 996.0,2028.8 832.5,2028.8" fill="#ffb48c"/>
<polygon points="930.7,1913.8 996.0,1913.8 996.0,1968.8 930.7,1931.5" fill="#22063b"/>
<polygon points="863.9,1931.5 930.7,1931.5 962.7,1950.8 930.7,1970.0 863.9,1970.0" fill="#ffe6d9"/>
<path d="M863.9,1970.0 V1931.7 A31.4,38.3 0 0 0 832.5,1970.0 Z" fill="url(#g3)"/>
<polygon points="832.5,1970.0 863.9,1970.0 863.9,2069.8 832.5,2069.8" fill="#22063b"/>
<path d="M863.9,1970.0 H832.5 A31.4,39.8 0 0 0 863.9,2009.8 Z" fill="#ffb48c"/>
<polygon points="863.9,1970.0 930.7,1970.0 930.7,2028.8 863.9,2028.8" fill="#ffffff"/>
<polygon points="897.0,1970.0 930.7,1970.0 930.7,2028.8" fill="#d8d3de"/>
<polygon points="863.9,2028.8 897.0,1970.0 930.7,2028.8" fill="url(#g3)"/>
<path d="M930.7,2028.8 V1975.7 A35.3,35.3 0 0 1 973.4,2028.8 Z" fill="#ffffff"/>
<polygon points="863.9,2028.8 897.0,2028.8 897.0,2043.9 863.9,2043.9" fill="#ffffff"/>
<polygon points="897.0,2028.8 996.0,2028.8 996.0,2043.9 897.0,2043.9" fill="#22063b"/>
<polygon points="863.9,2043.9 930.7,2043.9 930.7,2069.8 863.9,2069.8" fill="#ab8fc1"/>
<polygon points="930.7,2043.9 964.0,2043.9 964.0,2069.8 930.7,2069.8" fill="#ffb48c"/>
<polygon points="964.0,2043.9 996.0,2043.9 996.0,2069.8 964.0,2069.8" fill="#ffffff"/>
<g fill="none" stroke="#ffffff" stroke-width="1.5">
<circle cx="1316.8" cy="1772" r="164"/>
<ellipse cx="1316.8" cy="1772.0" rx="164.0" ry="35.0" transform="rotate(-97.5 1316.8 1772.0)"/>
<ellipse cx="1316.8" cy="1772.0" rx="164.0" ry="95.0" transform="rotate(-97.5 1316.8 1772.0)"/>
<ellipse cx="1316.8" cy="1772.0" rx="164.0" ry="145.0" transform="rotate(-97.5 1316.8 1772.0)"/>
<ellipse cx="1316.8" cy="1772.0" rx="164.0" ry="55.0" transform="rotate(-166.4 1316.8 1772.0)"/>
<ellipse cx="1316.8" cy="1772.0" rx="164.0" ry="125.0" transform="rotate(-166.4 1316.8 1772.0)"/>
<ellipse cx="1316.8" cy="1772.0" rx="164.0" ry="75.0" transform="rotate(-40.0 1316.8 1772.0)"/>
<ellipse cx="1316.8" cy="1772.0" rx="164.0" ry="30.0" transform="rotate(20.0 1316.8 1772.0)"/>
</g>
<rect x="1288.4" y="1604.8" width="16" height="16" fill="#ffffff"/>
<rect x="1335.2" y="1607.6" width="19" height="19" fill="#8b7f9b"/>
<rect x="1340.1" y="1641.8" width="11" height="11" fill="#ffb48c"/>
<rect x="1424.7" y="1652.5" width="16" height="16" fill="#22063b"/>
<rect x="1178.0" y="1669.9" width="16" height="16" fill="#ffb48c"/>
<rect x="1390.2" y="1689.6" width="14" height="14" fill="#ffb48c"/>
<rect x="1276.6" y="1713.9" width="16" height="16" fill="#ffe0e0"/>
<rect x="1152.8" y="1726.4" width="16" height="16" fill="#8b7f9b"/>
<rect x="1427.1" y="1724.2" width="19" height="19" fill="#8b7f9b"/>
<rect x="1163.6" y="1754.6" width="12" height="12" fill="#ffffff"/>
<rect x="1191.2" y="1798.3" width="18" height="18" fill="#ffe0e0"/>
<rect x="1278.9" y="1822.0" width="12" height="12" fill="#ffb48c"/>
<rect x="1414.3" y="1823.7" width="15" height="15" fill="#ffe0e0"/>
<rect x="1466.0" y="1818.7" width="12" height="12" fill="#ffb48c"/>
<rect x="1209.2" y="1863.6" width="16" height="16" fill="#22063b"/>
<rect x="1247.0" y="1892.0" width="8" height="8" fill="#ffffff"/>
<rect x="1264.0" y="1883.6" width="20" height="20" fill="#8b7f9b"/>
<rect x="1425.7" y="1881.0" width="12" height="12" fill="#ffffff"/>
<rect x="1321.9" y="1924.0" width="18" height="18" fill="#ffe0e0"/>
<mask id="m8_0" maskUnits="userSpaceOnUse" x="1200" y="1720" width="200" height="120"><path fill="#fff" d="M1225.90,1759.80 A27.10,24.00 0 1 0 1280.10,1759.80 A27.10,24.00 0 1 0 1225.90,1759.80 Z M1223.90,1792.00 A29.60,26.60 0 1 0 1283.10,1792.00 A29.60,26.60 0 1 0 1223.90,1792.00 Z"/><path fill="#000" d="M1243.40,1760.00 A9.60,9.60 0 1 0 1262.60,1760.00 A9.60,9.60 0 1 0 1243.40,1760.00 Z M1241.60,1793.00 A11.40,10.90 0 1 0 1264.40,1793.00 A11.40,10.90 0 1 0 1241.60,1793.00 Z"/></mask>
<rect x="1200" y="1720" width="200" height="120" fill="#ffffff" mask="url(#m8_0)"/>
<mask id="m8_1" maskUnits="userSpaceOnUse" x="1200" y="1720" width="200" height="120"><path fill="#fff" d="M1296.80,1759.80 A27.10,24.00 0 1 0 1351.00,1759.80 A27.10,24.00 0 1 0 1296.80,1759.80 Z M1294.80,1792.00 A29.60,26.60 0 1 0 1354.00,1792.00 A29.60,26.60 0 1 0 1294.80,1792.00 Z"/><path fill="#000" d="M1314.30,1760.00 A9.60,9.60 0 1 0 1333.50,1760.00 A9.60,9.60 0 1 0 1314.30,1760.00 Z M1312.50,1793.00 A11.40,10.90 0 1 0 1335.30,1793.00 A11.40,10.90 0 1 0 1312.50,1793.00 Z"/></mask>
<rect x="1200" y="1720" width="200" height="120" fill="#ffffff" mask="url(#m8_1)"/>
<path fill-rule="evenodd" fill="#ffffff" d="M1361.80,1757.50 A18.70,17.70 0 1 0 1399.20,1757.50 A18.70,17.70 0 1 0 1361.80,1757.50 Z M1374.60,1757.50 A5.90,6.90 0 1 0 1386.40,1757.50 A5.90,6.90 0 1 0 1374.60,1757.50 Z"/>
<path fill-rule="evenodd" fill="#ffffff" d="M1407.15,1799.90 A18.75,17.75 0 1 0 1444.65,1799.90 A18.75,17.75 0 1 0 1407.15,1799.90 Z M1420.05,1799.90 A5.85,6.90 0 1 0 1431.75,1799.90 A5.85,6.90 0 1 0 1420.05,1799.90 Z"/>
<polygon fill="#ffffff" points="1415,1739.8 1430.8,1739.8 1389.4,1817.2 1373.6,1817.2"/>
<rect x="609.4" y="2309.8" width="9.2" height="299.1" fill="#ff9ea0"/>
<rect x="633.2" y="2309.8" width="18.4" height="299.1" fill="#ff3d3d"/>
<rect x="670.0" y="2309.8" width="8.7" height="299.1" fill="#ab8fc1"/>
<rect x="689.5" y="2309.8" width="8.7" height="299.1" fill="#22063b"/>
<rect x="711.8" y="2309.8" width="13.0" height="299.1" fill="#ff5a5a"/>
<rect x="737.8" y="2309.8" width="11.9" height="299.1" fill="#ff8a48"/>
<polygon points="113.5,2602.4 314.0,2513.0 317.8,2523.8 117.3,2613.2" fill="#ff8a48"/>
<polygon points="192.1,2597.0 385.6,2482.1 389.9,2494.0 196.5,2608.9" fill="#ff3d3d"/>
<polygon points="262.6,2588.9 448.4,2451.2 457.6,2475.0 271.2,2610.5" fill="#ab8fc1"/>
<polygon points="342.8,2597.0 507.5,2416.5 514.5,2427.4 349.3,2607.8" fill="#22063b"/>
<polygon points="417.0,2604.0 545.4,2366.7 550.8,2372.1 422.4,2609.5" fill="#ff5a5a"/>
<polygon points="468.5,2588.9 567.1,2327.7 583.4,2336.9 484.7,2600.8" fill="#ff8a48"/>
<polygon points="496.6,2603.5 585.0,2333.1 593.1,2338.5 503.7,2607.8" fill="#22063b"/>
<polygon points="548.7,2604.0 598.5,2313.6 609.4,2316.8 560.6,2607.8" fill="#ffb48c"/>
<rect x="72.8" y="796.8" width="64" height="10.1" fill="#200439"/>
<rect x="99.5" y="769.9" width="10.7" height="63.2" fill="#200439"/>
<path d="M157.0,763.75 H173.1 V846.5" fill="none" stroke="#200439" stroke-width="11.3" stroke-linejoin="miter"/>
<path d="M197.0,763.75 H213.1 V846.5" fill="none" stroke="#200439" stroke-width="11.3" stroke-linejoin="miter"/>
<rect x="244.8" y="762.1" width="52.2" height="78.6" rx="26" ry="31" fill="none" stroke="#200439" stroke-width="11.6"/>
<path d="M601.5,1632 C601.5,1622.5 609,1617 620.5,1617 C632,1617 640,1623.5 640,1634 C640,1643 635.5,1648.5 628,1655.5 L601.5,1678.7" fill="none" stroke="#200439" stroke-width="8.4"/>
<rect x="597.3" y="1674.5" width="46.9" height="8.4" fill="#200439"/>
<path d="M653.9,1619 H666.5 V1682.9" fill="none" stroke="#200439" stroke-width="8.4" stroke-linejoin="miter"/>
<ellipse cx="698.6" cy="1630.2" rx="11" ry="11.2" fill="none" stroke="#200439" stroke-width="7"/>
<ellipse cx="727.8" cy="1670.4" rx="10.8" ry="10.9" fill="none" stroke="#200439" stroke-width="7"/>
<polygon points="728.9,1616.4 736.8,1616.4 698.2,1683.9 689.4,1683.9" fill="#200439"/>
<g transform="translate(0.00,0.00) scale(1)"><path d="M274.75,138.94 A25.50,25.50 0 1 0 275.89,171.70" fill="none" stroke="#ffffff" stroke-width="11.8"/><rect x="263.6" y="154.6" width="11.8" height="20" fill="#ffffff"/><circle cx="302" cy="163.5" r="16.1" fill="none" stroke="#ffffff" stroke-width="10.8"/><rect x="327.9" y="129" width="11.8" height="55.5" fill="#ffffff"/><path d="M383.00,163.50 A16.30,16.30 0 1 0 380.05,172.85" fill="none" stroke="#ffffff" stroke-width="10.8"/><rect x="344.9" y="159.3" width="43.6" height="8.9" fill="#ffffff"/><path d="M397.55,185.2 V161 A12.2,12.2 0 0 1 421.95,161 V185.2 M421.95,161 A11.85,11.85 0 0 1 445.65,161 V185.2" fill="none" stroke="#ffffff" stroke-width="11.9"/><circle cx="466.2" cy="176.3" r="8.9" fill="#ffffff"/><circle cx="502.4" cy="164" r="16.1" fill="none" stroke="#ffffff" stroke-width="10.6"/><rect x="512.4" y="143.8" width="11.5" height="41.4" fill="#ffffff"/><rect x="531" y="143.8" width="12.1" height="41.4" fill="#ffffff"/><circle cx="537.9" cy="129.8" r="7.7" fill="#ffffff"/></g>
<g transform="translate(1221.75,3314.10) scale(0.69)"><path d="M274.75,138.94 A25.50,25.50 0 1 0 275.89,171.70" fill="none" stroke="#ffffff" stroke-width="11.8"/><rect x="263.6" y="154.6" width="11.8" height="20" fill="#ffffff"/><circle cx="302" cy="163.5" r="16.1" fill="none" stroke="#ffffff" stroke-width="10.8"/><rect x="327.9" y="129" width="11.8" height="55.5" fill="#ffffff"/><path d="M383.00,163.50 A16.30,16.30 0 1 0 380.05,172.85" fill="none" stroke="#ffffff" stroke-width="10.8"/><rect x="344.9" y="159.3" width="43.6" height="8.9" fill="#ffffff"/><path d="M397.55,185.2 V161 A12.2,12.2 0 0 1 421.95,161 V185.2 M421.95,161 A11.85,11.85 0 0 1 445.65,161 V185.2" fill="none" stroke="#ffffff" stroke-width="11.9"/><circle cx="466.2" cy="176.3" r="8.9" fill="#ffffff"/><circle cx="502.4" cy="164" r="16.1" fill="none" stroke="#ffffff" stroke-width="10.6"/><rect x="512.4" y="143.8" width="11.5" height="41.4" fill="#ffffff"/><rect x="531" y="143.8" width="12.1" height="41.4" fill="#ffffff"/><circle cx="537.9" cy="129.8" r="7.7" fill="#ffffff"/></g>
<path d="M311.8,3446 L322.6,3412 M327.8,3446 L338.6,3412" stroke="#ffffff" stroke-width="3.4"/>
<g>
<text x="673.5" y="147.3" font-size="64" font-weight="700" fill="#ff7a30" textLength="42.5" lengthAdjust="spacingAndGlyphs"><tspan stroke="#ff7a30" stroke-width="0.77" stroke-linejoin="round">L’</tspan></text>
<text x="716.5" y="147.3" font-size="82" font-weight="700" fill="#ff7a30" textLength="78.5" lengthAdjust="spacingAndGlyphs"><tspan stroke="#ff7a30" stroke-width="0.98" stroke-linejoin="round">IA</tspan></text>
<text x="816.0" y="147.3" font-size="64" font-weight="700" fill="#ff7a30" textLength="768.0" lengthAdjust="spacingAndGlyphs"><tspan stroke="#ff7a30" stroke-width="0.77" stroke-linejoin="round">symbolique au secours</tspan></text>
<text x="676.4" y="214.6" font-size="64" font-weight="700" fill="#ff7a30" textLength="915.6" lengthAdjust="spacingAndGlyphs"><tspan stroke="#ff7a30" stroke-width="0.77" stroke-linejoin="round">des données non structurées</tspan></text>
<text x="333.0" y="803.6" font-size="51" font-weight="700" fill="#200439" textLength="213.4" lengthAdjust="spacingAndGlyphs"><tspan stroke="#200439" stroke-width="1.22" stroke-linejoin="round">milliards</tspan></text>
<text x="331.8" y="835.2" font-size="25" font-weight="700" fill="#200439" textLength="203.2" lengthAdjust="spacingAndGlyphs"><tspan stroke="#200439" stroke-width="0.36" stroke-linejoin="round">de dollars en 2024</tspan></text>
<text x="65.8" y="981.0" font-size="48" font-weight="700" fill="#200439" textLength="457.4" lengthAdjust="spacingAndGlyphs"><tspan stroke="#200439" stroke-width="1.15" stroke-linejoin="round">Un marché de l’</tspan><tspan font-size="63" stroke="#200439" stroke-width="1.51" stroke-linejoin="round">IA</tspan></text>
<text x="65.8" y="1039.7" font-size="63" font-weight="700" fill="#200439" textLength="425.8" lengthAdjust="spacingAndGlyphs"><tspan stroke="#200439" stroke-width="1.51" stroke-linejoin="round">en croissance</tspan></text>
<text x="65.8" y="1096.1" font-size="29.5" font-weight="400" fill="#200439" textLength="514.8" lengthAdjust="spacingAndGlyphs"><tspan stroke="none">Les dépenses mondiales en intelligence</tspan></text>
<text x="65.8" y="1134.5" font-size="29.5" font-weight="400" fill="#200439" textLength="505.8" lengthAdjust="spacingAndGlyphs"><tspan stroke="none">artificielle devraient passer </tspan><tspan font-weight="700" stroke="#200439" stroke-width="0.42" stroke-linejoin="round">à plus de</tspan></text>
<text x="65.8" y="1172.9" font-size="29.5" font-weight="400" fill="#200439" textLength="499.0" lengthAdjust="spacingAndGlyphs"><tspan font-weight="700" stroke="#200439" stroke-width="0.42" stroke-linejoin="round">110 milliards de dollars</tspan><tspan stroke="none"> en 2024 (1).</tspan></text>
<text x="65.8" y="1258.8" font-size="38" font-weight="400" fill="#200439" textLength="336.4" lengthAdjust="spacingAndGlyphs"><tspan stroke="none">Dont </tspan><tspan font-weight="700" stroke="#200439" stroke-width="0.91" stroke-linejoin="round">14,1 milliards</tspan></text>
<text x="65.8" y="1308.4" font-size="38" font-weight="700" fill="#200439" textLength="289.0" lengthAdjust="spacingAndGlyphs"><tspan stroke="#200439" stroke-width="0.91" stroke-linejoin="round">de dollars pour</tspan></text>
<text x="65.8" y="1356.8" font-size="38" font-weight="700" fill="#ff7a30" textLength="422.2" lengthAdjust="spacingAndGlyphs"><tspan stroke="#ff7a30" stroke-width="0.91" stroke-linejoin="round">les applications d'IA.</tspan></text>
<text x="65.8" y="1396.0" font-size="29" font-weight="400" fill="#200439" textLength="501.2" lengthAdjust="spacingAndGlyphs"><tspan stroke="none">Le volume des données serait multiplié</tspan></text>
<text x="65.8" y="1434.3" font-size="29" font-weight="400" fill="#200439" textLength="406.4" lengthAdjust="spacingAndGlyphs"><tspan stroke="none">par près de cinq d’ici 2025 (7).</tspan></text>
<text x="670.3" y="523.5" font-size="59" font-weight="700" fill="#200439" textLength="860.5" lengthAdjust="spacingAndGlyphs"><tspan stroke="#200439" stroke-width="1.42" stroke-linejoin="round">Infobésité et problématique</tspan></text>
<text x="668.5" y="576.4" font-size="51" font-weight="700" fill="#200439" textLength="724.1" lengthAdjust="spacingAndGlyphs"><tspan stroke="#200439" stroke-width="1.22" stroke-linejoin="round">des données non structurées</tspan></text>
<text x="667.6" y="730.0" font-size="24" font-weight="400" fill="#200439" textLength="36.0" lengthAdjust="spacingAndGlyphs"><tspan stroke="none">De</tspan></text>
<text x="710.7" y="730.0" font-size="94" font-weight="400" fill="#200439" textLength="376.9" lengthAdjust="spacingAndGlyphs"><tspan stroke="#ffffff" stroke-width="2.07">80 à 90%</tspan></text>
<text x="667.6" y="768.2" font-size="28.5" font-weight="400" fill="#200439" textLength="472.4" lengthAdjust="spacingAndGlyphs"><tspan stroke="none">des données générées et collectées</tspan></text>
<text x="667.6" y="807.8" font-size="28.5" font-weight="400" fill="#200439" textLength="422.1" lengthAdjust="spacingAndGlyphs"><tspan stroke="none">par les organisations </tspan><tspan font-weight="700" fill="#ff7a30" stroke="#ff7a30" stroke-width="0.41" stroke-linejoin="round">ne sont</tspan></text>
<text x="667.6" y="847.3" font-size="28.5" font-weight="700" fill="#ff7a30" textLength="329.1" lengthAdjust="spacingAndGlyphs"><tspan stroke="#ff7a30" stroke-width="0.41" stroke-linejoin="round">pas structurées</tspan><tspan font-weight="400" stroke="none"> (2)</tspan><tspan stroke="#ff7a30" stroke-width="0.41" stroke-linejoin="round">.</tspan></text>
<text x="1189.0" y="702.4" font-size="51" font-weight="700" fill="#ff7a30" textLength="111.3" lengthAdjust="spacingAndGlyphs"><tspan stroke="#ff7a30" stroke-width="1.22" stroke-linejoin="round">57 %</tspan></text>
<text x="1309.7" y="702.4" font-size="28.5" font-weight="400" fill="#200439" textLength="174.8" lengthAdjust="spacingAndGlyphs"><tspan stroke="none">craignent que</tspan></text>
<text x="1186.6" y="741.4" font-size="28.5" font-weight="400" fill="#200439" textLength="295.4" lengthAdjust="spacingAndGlyphs"><tspan stroke="none">le volume des données</tspan></text>
<text x="1186.6" y="780.6" font-size="28.5" font-weight="400" fill="#200439" textLength="326.4" lengthAdjust="spacingAndGlyphs"><tspan stroke="none">n'augmente plus vite que</tspan></text>
<text x="1186.6" y="819.0" font-size="28.5" font-weight="400" fill="#200439" textLength="380.0" lengthAdjust="spacingAndGlyphs"><tspan stroke="none">la capacité de leur entreprise</tspan></text>
<text x="1186.6" y="858.6" font-size="28.5" font-weight="400" fill="#200439" textLength="184.4" lengthAdjust="spacingAndGlyphs"><tspan stroke="none">à les gérer (7).</tspan></text>
<text x="667.7" y="974.3" font-size="52" font-weight="700" fill="#ff7a30" textLength="98.7" lengthAdjust="spacingAndGlyphs"><tspan stroke="#ff7a30" stroke-width="1.25" stroke-linejoin="round">82%</tspan></text>
<text x="777.5" y="974.3" font-size="28.5" font-weight="400" fill="#200439" textLength="282.5" lengthAdjust="spacingAndGlyphs"><tspan stroke="none">des organisations (5)</tspan></text>
<text x="667.7" y="1013.7" font-size="28.5" font-weight="400" fill="#200439" textLength="340.7" lengthAdjust="spacingAndGlyphs"><tspan stroke="none">considèrent l'augmentation</tspan></text>
<text x="667.7" y="1051.9" font-size="28.5" font-weight="400" fill="#200439" textLength="329.6" lengthAdjust="spacingAndGlyphs"><tspan stroke="none">du volume de l'information</tspan></text>
<text x="667.7" y="1090.8" font-size="28.5" font-weight="400" fill="#200439" textLength="403.5" lengthAdjust="spacingAndGlyphs"><tspan stroke="none">comme un problème important.</tspan></text>
<text x="1186.6" y="1265.1" font-size="28.5" font-weight="400" fill="#200439" textLength="379.4" lengthAdjust="spacingAndGlyphs"><tspan stroke="none">En France, un employé passe</tspan></text>
<text x="1186.6" y="1303.1" font-size="28.5" font-weight="400" fill="#200439" textLength="312.2" lengthAdjust="spacingAndGlyphs"><tspan stroke="none">en moyenne </tspan><tspan font-size="37" font-weight="700" stroke="#200439" stroke-width="0.89" stroke-linejoin="round">7h30</tspan><tspan stroke="none"> par</tspan></text>
<text x="1186.6" y="1341.9" font-size="28.5" font-weight="400" fill="#200439" textLength="286.4" lengthAdjust="spacingAndGlyphs"><tspan stroke="none">semaine à rechercher</tspan></text>
<text x="1186.6" y="1381.5" font-size="28.5" font-weight="400" fill="#200439" textLength="341.8" lengthAdjust="spacingAndGlyphs"><tspan stroke="none">une information, papier ou</tspan></text>
<text x="1186.6" y="1419.5" font-size="28.5" font-weight="400" fill="#200439" textLength="406.4" lengthAdjust="spacingAndGlyphs"><tspan stroke="none">numérique, </tspan><tspan font-weight="700" fill="#ff7a30" stroke="#ff7a30" stroke-width="0.41" stroke-linejoin="round">sans la trouver</tspan><tspan font-weight="400" fill="#ff7a30" stroke="none"> (3)</tspan><tspan stroke="none">.</tspan></text>
<text x="67.0" y="1680.5" font-size="71" font-weight="400" fill="#ffffff" textLength="321.8" lengthAdjust="spacingAndGlyphs"><tspan stroke="url(#og)" stroke-width="1.56">Simplifier</tspan></text>
<text x="67.0" y="1743.8" font-size="71" font-weight="400" fill="#ffffff" textLength="258.0" lengthAdjust="spacingAndGlyphs"><tspan stroke="url(#og)" stroke-width="1.56">le temps</tspan></text>
<text x="67.0" y="1803.6" font-size="71" font-weight="400" fill="#ffffff" textLength="283.0" lengthAdjust="spacingAndGlyphs"><tspan stroke="url(#og)" stroke-width="1.56">d’analyse</tspan></text>
<text x="453.5" y="1683.8" font-size="29" font-weight="400" fill="#200439" textLength="133.9" lengthAdjust="spacingAndGlyphs"><tspan stroke="none">En France,</tspan></text>
<text x="753.2" y="1683.8" font-size="31" font-weight="700" fill="#200439" textLength="211.3" lengthAdjust="spacingAndGlyphs"><tspan stroke="#200439" stroke-width="0.45" stroke-linejoin="round">des managers</tspan></text>
<text x="453.5" y="1722.4" font-size="30" font-weight="400" fill="#200439" textLength="551.1" lengthAdjust="spacingAndGlyphs"><tspan stroke="none">consacrent </tspan><tspan font-weight="700" fill="#ffffff" stroke="#ffffff" stroke-width="0.43" stroke-linejoin="round">plus de 50% de leur temps</tspan></text>
<text x="453.5" y="1760.7" font-size="30" font-weight="400" fill="#200439" textLength="631.3" lengthAdjust="spacingAndGlyphs"><tspan stroke="none">au pilotage d’activité et prise de décisions (4).</tspan></text>
<text x="1122.9" y="1987.3" font-size="30" font-weight="400" fill="#ffffff" textLength="370.4" lengthAdjust="spacingAndGlyphs"><tspan stroke="none">des managers estiment que</tspan></text>
<text x="1122.9" y="2025.9" font-size="30" font-weight="400" fill="#ffffff" textLength="325.9" lengthAdjust="spacingAndGlyphs"><tspan stroke="none">la transformation digitale</tspan></text>
<text x="1122.9" y="2065.3" font-size="30" font-weight="400" fill="#ffffff" textLength="356.2" lengthAdjust="spacingAndGlyphs"><tspan stroke="none">a impacté leur métier dont</tspan></text>
<text x="1122.9" y="2114.3" font-size="37" font-weight="700" fill="#ffffff" textLength="426.4" lengthAdjust="spacingAndGlyphs"><tspan stroke="#ffffff" stroke-width="0.89" stroke-linejoin="round">76 % positivement</tspan><tspan font-size="30" font-weight="400" stroke="none"> (4).</tspan></text>
<text x="804.7" y="2341.3" font-size="51" font-weight="700" fill="#200439" textLength="587.2" lengthAdjust="spacingAndGlyphs"><tspan stroke="#200439" stroke-width="1.22" stroke-linejoin="round">Le ROI de l’IA se mesure</tspan></text>
<text x="804.7" y="2399.3" font-size="66" font-weight="700" fill="#200439" textLength="722.5" lengthAdjust="spacingAndGlyphs"><tspan stroke="#200439" stroke-width="1.58" stroke-linejoin="round">en gain de productivité</tspan></text>
<text x="804.7" y="2473.8" font-size="30" font-weight="400" fill="#200439" textLength="589.1" lengthAdjust="spacingAndGlyphs"><tspan stroke="none">Le temps d’analyse d’un document </tspan><tspan font-weight="700" fill="#ff7a30" stroke="#ff7a30" stroke-width="0.43" stroke-linejoin="round">via une</tspan></text>
<text x="804.7" y="2511.7" font-size="30" font-weight="400" fill="#200439" textLength="610.8" lengthAdjust="spacingAndGlyphs"><tspan font-weight="700" fill="#ff7a30" stroke="#ff7a30" stroke-width="0.43" stroke-linejoin="round">IA Golem.ai</tspan><tspan font-weight="700" stroke="#200439" stroke-width="0.43" stroke-linejoin="round"> est divisé par 4</tspan><tspan stroke="none">. Ce qui permet</tspan></text>
<text x="804.7" y="2563.7" font-size="49" font-weight="400" fill="#200439" textLength="622.0" lengthAdjust="spacingAndGlyphs"><tspan font-size="30" stroke="none">d’</tspan><tspan font-weight="700" stroke="#200439" stroke-width="1.18" stroke-linejoin="round">économiser 75%</tspan><tspan stroke="none"> de temps</tspan></text>
<text x="804.7" y="2601.8" font-size="30" font-weight="400" fill="#200439" textLength="631.8" lengthAdjust="spacingAndGlyphs"><tspan stroke="none">de traitement d’un dossier (appel d’offre…) (6).</tspan></text>
<text x="107.4" y="2808.0" font-size="30" font-weight="400" fill="#200439" textLength="579.5" lengthAdjust="spacingAndGlyphs"><tspan font-weight="700" fill="#ff7a30" stroke="#ff7a30" stroke-width="0.43" stroke-linejoin="round">Les données non structurées</tspan><tspan stroke="none"> sont des</tspan></text>
<text x="107.4" y="2846.2" font-size="30" font-weight="400" fill="#200439" textLength="576.4" lengthAdjust="spacingAndGlyphs"><tspan stroke="none">données représentées ou stockées sans</tspan></text>
<text x="107.4" y="2885.0" font-size="30" font-weight="400" fill="#200439" textLength="237.6" lengthAdjust="spacingAndGlyphs"><tspan stroke="none">format prédéfini.</tspan></text>
<text x="808.7" y="2808.0" font-size="30" font-weight="400" fill="#200439" textLength="716.8" lengthAdjust="spacingAndGlyphs"><tspan font-weight="700" stroke="#200439" stroke-width="0.43" stroke-linejoin="round">L’IA symbolique</tspan><tspan stroke="none"> est une approche de l'IA qui vise</tspan></text>
<text x="808.7" y="2846.2" font-size="30" font-weight="400" fill="#200439" textLength="667.3" lengthAdjust="spacingAndGlyphs"><tspan stroke="none">à produire du raisonnement en s'appuyant sur la</tspan></text>
<text x="808.7" y="2885.0" font-size="30" font-weight="400" fill="#200439" textLength="719.3" lengthAdjust="spacingAndGlyphs"><tspan stroke="none">manipulation de concepts (aka : des symboles).</tspan></text>
<text x="107.4" y="2984.7" font-size="19.5" font-weight="700" fill="#200439" textLength="97.3" lengthAdjust="spacingAndGlyphs"><tspan stroke="#200439" stroke-width="0.28" stroke-linejoin="round">Sources :</tspan></text>
<text x="107.4" y="3012.5" font-size="19.5" font-weight="400" fill="#200439" textLength="1231.6" lengthAdjust="spacingAndGlyphs"><tspan fill="#ff7a30" stroke="none">(1)</tspan><tspan stroke="none"> IDC Worldwide Artificial Intelligence Spending Guide 2020 https://www.idc.com/getdoc.jsp?containerId=prUS46794720</tspan></text>
<text x="107.4" y="3040.0" font-size="19.5" font-weight="400" fill="#200439" textLength="819.9" lengthAdjust="spacingAndGlyphs"><tspan fill="#ff7a30" stroke="none">(2)</tspan><tspan stroke="none"> Unstructured Data, MongoDB https://www.mongodb.com/unstructured-data</tspan></text>
<text x="107.4" y="3068.0" font-size="19.5" font-weight="400" fill="#200439" textLength="673.6" lengthAdjust="spacingAndGlyphs"><tspan fill="#ff7a30" stroke="none">(3)</tspan><tspan stroke="none"> Association Information et Management https://aim.asso.fr/fr/</tspan></text>
<text x="107.4" y="3096.0" font-size="19.5" font-weight="400" fill="#200439" textLength="1396.3" lengthAdjust="spacingAndGlyphs"><tspan fill="#ff7a30" stroke="none">(4)</tspan><tspan stroke="none"> Enquête Axys consultants 2021 : Du manager au manager augmenté – état des lieux, défis, digitalisation de la fonction et impact de l’IA</tspan></text>
<text x="107.4" y="3123.5" font-size="19.5" font-weight="400" fill="#200439" textLength="1409.1" lengthAdjust="spacingAndGlyphs"><tspan stroke="none">https://www.actuia.com/actualite/enquete-du-manager-au-manager-augmente-etat-des-lieux-defis-digitalisation-de-la-fonction-et-</tspan></text>
<text x="107.4" y="3151.0" font-size="19.5" font-weight="400" fill="#200439" textLength="156.6" lengthAdjust="spacingAndGlyphs"><tspan stroke="none">impact-de-lia/</tspan></text>
<text x="107.4" y="3178.7" font-size="19.5" font-weight="400" fill="#200439" textLength="1005.6" lengthAdjust="spacingAndGlyphs"><tspan fill="#ff7a30" stroke="none">(5)</tspan><tspan stroke="none"> IIM Best Practices —Incorporating Intelligent Capture in Your Digital Transformation Strategy 2019.</tspan></text>
<text x="107.4" y="3207.0" font-size="19.5" font-weight="400" fill="#200439" textLength="1053.6" lengthAdjust="spacingAndGlyphs"><tspan stroke="none">https://cdn2.hubspot.net/hubfs/332414/Market-Intelligence/IW.Reports/IW-Intelligent-Capture-2019.pdf</tspan></text>
<text x="107.4" y="3234.5" font-size="19.5" font-weight="400" fill="#200439" textLength="712.3" lengthAdjust="spacingAndGlyphs"><tspan fill="#ff7a30" stroke="none">(6)</tspan><tspan stroke="none"> Golem.ai 2021 https://golem.ai/fr/solutions/gestion-appels-offres</tspan></text>
<text x="107.4" y="3262.0" font-size="19.5" font-weight="400" fill="#200439" textLength="1341.8" lengthAdjust="spacingAndGlyphs"><tspan fill="#ff7a30" stroke="none">(7)</tspan><tspan stroke="none"> Nous sommes entrés dans l’ère des données. Êtes-vous prêt ? - Splunk 2020 https://www.splunk.com/fr_fr/form/data-age.html</tspan></text>
<text x="122.2" y="3441.9" font-size="30" font-weight="400" fill="#ffffff" textLength="143.5" lengthAdjust="spacingAndGlyphs"><tspan stroke="#ffffff" stroke-width="0.66">golem.ai</tspan></text>
<text x="384.0" y="3441.9" font-size="30" font-weight="400" fill="#ffffff" textLength="202.8" lengthAdjust="spacingAndGlyphs"><tspan stroke="#ffffff" stroke-width="0.66">@golem_ai</tspan></text>
</g>
</svg>
</body></html>
